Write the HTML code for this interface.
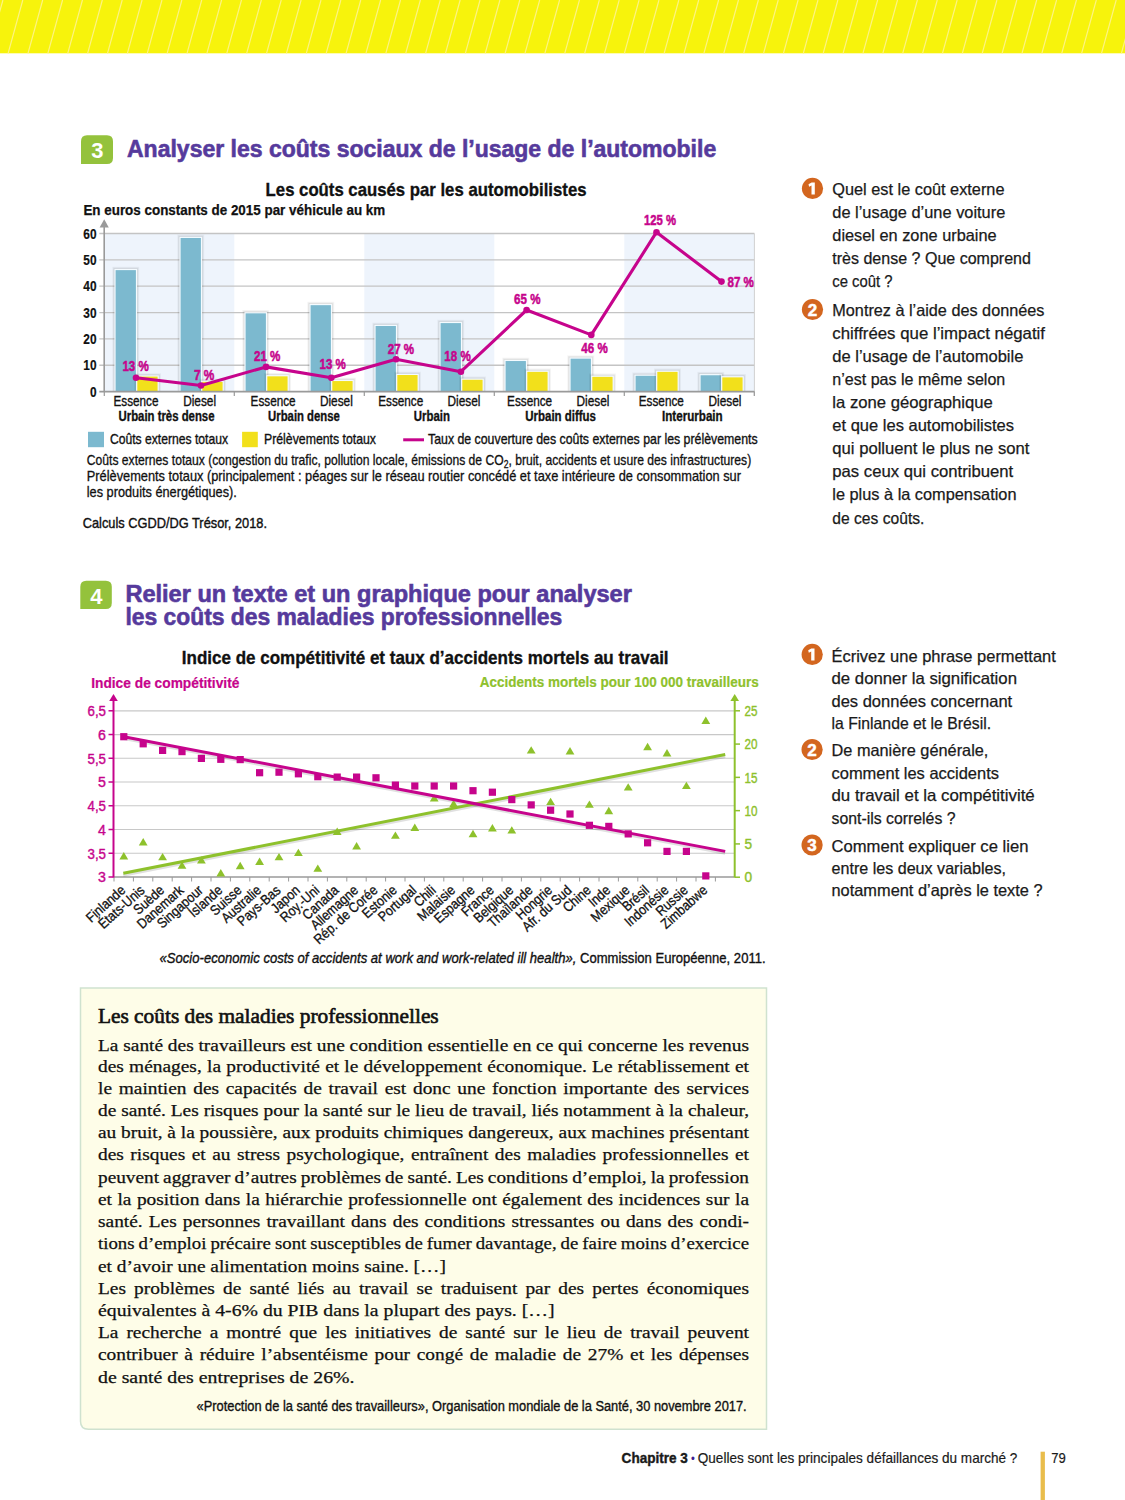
<!DOCTYPE html>
<html lang="fr"><head><meta charset="utf-8"><title>Page 79</title>
<style>
html,body{margin:0;padding:0;background:#fff;}
body{width:1125px;height:1500px;overflow:hidden;}
svg{display:block;}
</style></head><body>
<svg width="1125" height="1500" viewBox="0 0 1125 1500" font-family='"Liberation Sans", sans-serif'>
<rect x="0" y="0" width="1125" height="53.3" fill="#f7f30c"/>
<path d="M-31.66 53.3L-16.96 0 M-11.78 53.3L2.92 0 M8.10 53.3L22.80 0 M27.98 53.3L42.68 0 M47.86 53.3L62.56 0 M67.74 53.3L82.44 0 M87.62 53.3L102.32 0 M107.50 53.3L122.20 0 M127.38 53.3L142.08 0 M147.26 53.3L161.96 0 M167.14 53.3L181.84 0 M187.02 53.3L201.72 0 M206.90 53.3L221.60 0 M226.78 53.3L241.48 0 M246.66 53.3L261.36 0 M266.54 53.3L281.24 0 M286.42 53.3L301.12 0 M306.30 53.3L321.00 0 M326.18 53.3L340.88 0 M346.06 53.3L360.76 0 M365.94 53.3L380.64 0 M385.82 53.3L400.52 0 M405.70 53.3L420.40 0 M425.58 53.3L440.28 0 M445.46 53.3L460.16 0 M465.34 53.3L480.04 0 M485.22 53.3L499.92 0 M505.10 53.3L519.80 0 M524.98 53.3L539.68 0 M544.86 53.3L559.56 0 M564.74 53.3L579.44 0 M584.62 53.3L599.32 0 M604.50 53.3L619.20 0 M624.38 53.3L639.08 0 M644.26 53.3L658.96 0 M664.14 53.3L678.84 0 M684.02 53.3L698.72 0 M703.90 53.3L718.60 0 M723.78 53.3L738.48 0 M743.66 53.3L758.36 0 M763.54 53.3L778.24 0 M783.42 53.3L798.12 0 M803.30 53.3L818.00 0 M823.18 53.3L837.88 0 M843.06 53.3L857.76 0 M862.94 53.3L877.64 0 M882.82 53.3L897.52 0 M902.70 53.3L917.40 0 M922.58 53.3L937.28 0 M942.46 53.3L957.16 0 M962.34 53.3L977.04 0 M982.22 53.3L996.92 0 M1002.10 53.3L1016.80 0 M1021.98 53.3L1036.68 0 M1041.86 53.3L1056.56 0 M1061.74 53.3L1076.44 0 M1081.62 53.3L1096.32 0 M1101.50 53.3L1116.20 0 M1121.38 53.3L1136.08 0 M1141.26 53.3L1155.96 0 M1161.14 53.3L1175.84 0 M1181.02 53.3L1195.72 0" stroke="#fdf382" stroke-width="1.2" fill="none"/>
<path d="M81 164.10000000000002L81 141.3Q81 135.3 87 135.3L107 135.3Q113 135.3 113 141.3L113 158.10000000000002Q113 164.10000000000002 107 164.10000000000002Z" fill="#94c23c"/>
<text x="97.30" y="158.40" font-size="22" fill="#fff" font-weight="bold" text-anchor="middle">3</text>
<text x="127.00" y="157.00" font-size="23" fill="#563a9c" font-weight="bold" textLength="589.20" lengthAdjust="spacingAndGlyphs" stroke="#563a9c" stroke-width="0.6">Analyser les coûts sociaux de l’usage de l’automobile</text>
<text x="265.60" y="195.70" font-size="18.5" fill="#111" font-weight="bold" textLength="320.90" lengthAdjust="spacingAndGlyphs" stroke="#111" stroke-width="0.35">Les coûts causés par les automobilistes</text>
<text x="83.40" y="215.40" font-size="14.5" fill="#111" font-weight="bold" textLength="301.80" lengthAdjust="spacingAndGlyphs" stroke="#111" stroke-width="0.25">En euros constants de 2015 par véhicule au km</text>
<rect x="104.3" y="233.50" width="130" height="158.10" fill="#eef4fc"/>
<rect x="364.3" y="233.50" width="130" height="158.10" fill="#eef4fc"/>
<rect x="624.3" y="233.50" width="130" height="158.10" fill="#eef4fc"/>
<line x1="99.3" y1="365.25" x2="754.4" y2="365.25" stroke="#c4c4c4" stroke-width="1.3"/>
<line x1="99.3" y1="338.90" x2="754.4" y2="338.90" stroke="#c4c4c4" stroke-width="1.3"/>
<line x1="99.3" y1="312.55" x2="754.4" y2="312.55" stroke="#c4c4c4" stroke-width="1.3"/>
<line x1="99.3" y1="286.20" x2="754.4" y2="286.20" stroke="#c4c4c4" stroke-width="1.3"/>
<line x1="99.3" y1="259.85" x2="754.4" y2="259.85" stroke="#c4c4c4" stroke-width="1.3"/>
<line x1="99.3" y1="233.50" x2="754.4" y2="233.50" stroke="#c4c4c4" stroke-width="1.3"/>
<line x1="754.4" y1="233.50" x2="754.4" y2="395.7" stroke="#d0d0d0" stroke-width="1"/>
<text x="96.50" y="396.70" font-size="14.5" fill="#111" font-weight="bold" text-anchor="end" textLength="6.60" lengthAdjust="spacingAndGlyphs" stroke="#111" stroke-width="0.2">0</text>
<text x="96.50" y="370.35" font-size="14.5" fill="#111" font-weight="bold" text-anchor="end" textLength="13.20" lengthAdjust="spacingAndGlyphs" stroke="#111" stroke-width="0.2">10</text>
<text x="96.50" y="344.00" font-size="14.5" fill="#111" font-weight="bold" text-anchor="end" textLength="13.20" lengthAdjust="spacingAndGlyphs" stroke="#111" stroke-width="0.2">20</text>
<text x="96.50" y="317.65" font-size="14.5" fill="#111" font-weight="bold" text-anchor="end" textLength="13.20" lengthAdjust="spacingAndGlyphs" stroke="#111" stroke-width="0.2">30</text>
<text x="96.50" y="291.30" font-size="14.5" fill="#111" font-weight="bold" text-anchor="end" textLength="13.20" lengthAdjust="spacingAndGlyphs" stroke="#111" stroke-width="0.2">40</text>
<text x="96.50" y="264.95" font-size="14.5" fill="#111" font-weight="bold" text-anchor="end" textLength="13.20" lengthAdjust="spacingAndGlyphs" stroke="#111" stroke-width="0.2">50</text>
<text x="96.50" y="238.60" font-size="14.5" fill="#111" font-weight="bold" text-anchor="end" textLength="13.20" lengthAdjust="spacingAndGlyphs" stroke="#111" stroke-width="0.2">60</text>
<rect x="112.20" y="266.73" width="27.10" height="124.87" fill="#000" opacity="0.035"/>
<rect x="113.00" y="267.53" width="25.50" height="124.07" fill="#000" opacity="0.05"/>
<rect x="113.80" y="268.33" width="23.90" height="123.27" fill="#000" opacity="0.06"/>
<rect x="114.40" y="268.93" width="22.70" height="122.67" fill="#f4fbff"/>
<rect x="115.60" y="270.13" width="20.3" height="121.47" fill="#7cb9cf"/>
<rect x="133.90" y="373.18" width="27.10" height="18.42" fill="#000" opacity="0.035"/>
<rect x="134.70" y="373.98" width="25.50" height="17.62" fill="#000" opacity="0.05"/>
<rect x="135.50" y="374.78" width="23.90" height="16.82" fill="#000" opacity="0.06"/>
<rect x="136.10" y="375.38" width="22.70" height="16.22" fill="#f4fbff"/>
<rect x="137.30" y="376.58" width="20.3" height="15.02" fill="#f2e01b"/>
<rect x="177.20" y="234.58" width="27.10" height="157.02" fill="#000" opacity="0.035"/>
<rect x="178.00" y="235.38" width="25.50" height="156.22" fill="#000" opacity="0.05"/>
<rect x="178.80" y="236.18" width="23.90" height="155.42" fill="#000" opacity="0.06"/>
<rect x="179.40" y="236.78" width="22.70" height="154.82" fill="#f4fbff"/>
<rect x="180.60" y="237.98" width="20.3" height="153.62" fill="#7cb9cf"/>
<rect x="198.90" y="378.45" width="27.10" height="13.15" fill="#000" opacity="0.035"/>
<rect x="199.70" y="379.25" width="25.50" height="12.35" fill="#000" opacity="0.05"/>
<rect x="200.50" y="380.05" width="23.90" height="11.55" fill="#000" opacity="0.06"/>
<rect x="201.10" y="380.65" width="22.70" height="10.95" fill="#f4fbff"/>
<rect x="202.30" y="381.85" width="20.3" height="9.75" fill="#f2e01b"/>
<rect x="242.20" y="309.94" width="27.10" height="81.66" fill="#000" opacity="0.035"/>
<rect x="243.00" y="310.74" width="25.50" height="80.86" fill="#000" opacity="0.05"/>
<rect x="243.80" y="311.54" width="23.90" height="80.06" fill="#000" opacity="0.06"/>
<rect x="244.40" y="312.14" width="22.70" height="79.46" fill="#f4fbff"/>
<rect x="245.60" y="313.34" width="20.3" height="78.26" fill="#7cb9cf"/>
<rect x="263.90" y="372.92" width="27.10" height="18.68" fill="#000" opacity="0.035"/>
<rect x="264.70" y="373.72" width="25.50" height="17.88" fill="#000" opacity="0.05"/>
<rect x="265.50" y="374.52" width="23.90" height="17.08" fill="#000" opacity="0.06"/>
<rect x="266.10" y="375.12" width="22.70" height="16.48" fill="#f4fbff"/>
<rect x="267.30" y="376.32" width="20.3" height="15.28" fill="#f2e01b"/>
<rect x="307.20" y="301.77" width="27.10" height="89.83" fill="#000" opacity="0.035"/>
<rect x="308.00" y="302.57" width="25.50" height="89.03" fill="#000" opacity="0.05"/>
<rect x="308.80" y="303.37" width="23.90" height="88.23" fill="#000" opacity="0.06"/>
<rect x="309.40" y="303.97" width="22.70" height="87.63" fill="#f4fbff"/>
<rect x="310.60" y="305.17" width="20.3" height="86.43" fill="#7cb9cf"/>
<rect x="328.90" y="377.66" width="27.10" height="13.94" fill="#000" opacity="0.035"/>
<rect x="329.70" y="378.46" width="25.50" height="13.14" fill="#000" opacity="0.05"/>
<rect x="330.50" y="379.26" width="23.90" height="12.34" fill="#000" opacity="0.06"/>
<rect x="331.10" y="379.86" width="22.70" height="11.74" fill="#f4fbff"/>
<rect x="332.30" y="381.06" width="20.3" height="10.54" fill="#f2e01b"/>
<rect x="372.20" y="322.59" width="27.10" height="69.01" fill="#000" opacity="0.035"/>
<rect x="373.00" y="323.39" width="25.50" height="68.21" fill="#000" opacity="0.05"/>
<rect x="373.80" y="324.19" width="23.90" height="67.41" fill="#000" opacity="0.06"/>
<rect x="374.40" y="324.79" width="22.70" height="66.81" fill="#f4fbff"/>
<rect x="375.60" y="325.99" width="20.3" height="65.61" fill="#7cb9cf"/>
<rect x="393.90" y="371.60" width="27.10" height="20.00" fill="#000" opacity="0.035"/>
<rect x="394.70" y="372.40" width="25.50" height="19.20" fill="#000" opacity="0.05"/>
<rect x="395.50" y="373.20" width="23.90" height="18.40" fill="#000" opacity="0.06"/>
<rect x="396.10" y="373.80" width="22.70" height="17.80" fill="#f4fbff"/>
<rect x="397.30" y="375.00" width="20.3" height="16.60" fill="#f2e01b"/>
<rect x="437.20" y="319.69" width="27.10" height="71.91" fill="#000" opacity="0.035"/>
<rect x="438.00" y="320.49" width="25.50" height="71.11" fill="#000" opacity="0.05"/>
<rect x="438.80" y="321.29" width="23.90" height="70.31" fill="#000" opacity="0.06"/>
<rect x="439.40" y="321.89" width="22.70" height="69.71" fill="#f4fbff"/>
<rect x="440.60" y="323.09" width="20.3" height="68.51" fill="#7cb9cf"/>
<rect x="458.90" y="376.34" width="27.10" height="15.26" fill="#000" opacity="0.035"/>
<rect x="459.70" y="377.14" width="25.50" height="14.46" fill="#000" opacity="0.05"/>
<rect x="460.50" y="377.94" width="23.90" height="13.66" fill="#000" opacity="0.06"/>
<rect x="461.10" y="378.54" width="22.70" height="13.06" fill="#f4fbff"/>
<rect x="462.30" y="379.74" width="20.3" height="11.86" fill="#f2e01b"/>
<rect x="502.20" y="357.63" width="27.10" height="33.97" fill="#000" opacity="0.035"/>
<rect x="503.00" y="358.43" width="25.50" height="33.17" fill="#000" opacity="0.05"/>
<rect x="503.80" y="359.23" width="23.90" height="32.37" fill="#000" opacity="0.06"/>
<rect x="504.40" y="359.83" width="22.70" height="31.77" fill="#f4fbff"/>
<rect x="505.60" y="361.03" width="20.3" height="30.57" fill="#7cb9cf"/>
<rect x="523.90" y="368.44" width="27.10" height="23.16" fill="#000" opacity="0.035"/>
<rect x="524.70" y="369.24" width="25.50" height="22.36" fill="#000" opacity="0.05"/>
<rect x="525.50" y="370.04" width="23.90" height="21.56" fill="#000" opacity="0.06"/>
<rect x="526.10" y="370.64" width="22.70" height="20.96" fill="#f4fbff"/>
<rect x="527.30" y="371.84" width="20.3" height="19.76" fill="#f2e01b"/>
<rect x="567.20" y="355.26" width="27.10" height="36.34" fill="#000" opacity="0.035"/>
<rect x="568.00" y="356.06" width="25.50" height="35.54" fill="#000" opacity="0.05"/>
<rect x="568.80" y="356.86" width="23.90" height="34.74" fill="#000" opacity="0.06"/>
<rect x="569.40" y="357.46" width="22.70" height="34.14" fill="#f4fbff"/>
<rect x="570.60" y="358.66" width="20.3" height="32.94" fill="#7cb9cf"/>
<rect x="588.90" y="373.44" width="27.10" height="18.16" fill="#000" opacity="0.035"/>
<rect x="589.70" y="374.24" width="25.50" height="17.36" fill="#000" opacity="0.05"/>
<rect x="590.50" y="375.04" width="23.90" height="16.56" fill="#000" opacity="0.06"/>
<rect x="591.10" y="375.64" width="22.70" height="15.96" fill="#f4fbff"/>
<rect x="592.30" y="376.84" width="20.3" height="14.76" fill="#f2e01b"/>
<rect x="632.20" y="372.39" width="27.10" height="19.21" fill="#000" opacity="0.035"/>
<rect x="633.00" y="373.19" width="25.50" height="18.41" fill="#000" opacity="0.05"/>
<rect x="633.80" y="373.99" width="23.90" height="17.61" fill="#000" opacity="0.06"/>
<rect x="634.40" y="374.59" width="22.70" height="17.01" fill="#f4fbff"/>
<rect x="635.60" y="375.79" width="20.3" height="15.81" fill="#7cb9cf"/>
<rect x="653.90" y="368.44" width="27.10" height="23.16" fill="#000" opacity="0.035"/>
<rect x="654.70" y="369.24" width="25.50" height="22.36" fill="#000" opacity="0.05"/>
<rect x="655.50" y="370.04" width="23.90" height="21.56" fill="#000" opacity="0.06"/>
<rect x="656.10" y="370.64" width="22.70" height="20.96" fill="#f4fbff"/>
<rect x="657.30" y="371.84" width="20.3" height="19.76" fill="#f2e01b"/>
<rect x="697.20" y="371.86" width="27.10" height="19.74" fill="#000" opacity="0.035"/>
<rect x="698.00" y="372.66" width="25.50" height="18.94" fill="#000" opacity="0.05"/>
<rect x="698.80" y="373.46" width="23.90" height="18.14" fill="#000" opacity="0.06"/>
<rect x="699.40" y="374.06" width="22.70" height="17.54" fill="#f4fbff"/>
<rect x="700.60" y="375.26" width="20.3" height="16.34" fill="#7cb9cf"/>
<rect x="718.90" y="373.97" width="27.10" height="17.63" fill="#000" opacity="0.035"/>
<rect x="719.70" y="374.77" width="25.50" height="16.83" fill="#000" opacity="0.05"/>
<rect x="720.50" y="375.57" width="23.90" height="16.03" fill="#000" opacity="0.06"/>
<rect x="721.10" y="376.17" width="22.70" height="15.43" fill="#f4fbff"/>
<rect x="722.30" y="377.37" width="20.3" height="14.23" fill="#f2e01b"/>
<line x1="99.3" y1="391.6" x2="754.4" y2="391.6" stroke="#9a9a9a" stroke-width="1.6"/>
<line x1="104.3" y1="391.6" x2="104.3" y2="396" stroke="#9a9a9a" stroke-width="1.2"/>
<line x1="234.3" y1="391.6" x2="234.3" y2="396" stroke="#9a9a9a" stroke-width="1.2"/>
<line x1="364.3" y1="391.6" x2="364.3" y2="396" stroke="#9a9a9a" stroke-width="1.2"/>
<line x1="494.3" y1="391.6" x2="494.3" y2="396" stroke="#9a9a9a" stroke-width="1.2"/>
<line x1="624.3" y1="391.6" x2="624.3" y2="396" stroke="#9a9a9a" stroke-width="1.2"/>
<line x1="754.3" y1="391.6" x2="754.3" y2="396" stroke="#9a9a9a" stroke-width="1.2"/>
<line x1="104.2" y1="226" x2="104.2" y2="391.6" stroke="#9a9a9a" stroke-width="1.6"/>
<path d="M104.2 219.3L99.6 227.4L108.8 227.4Z" fill="#9a9a9a"/>
<polyline points="136,377.7 201,385.5 266,366.9 331.3,377.7 396,359.2 460.9,371.7 526.6,310 591.3,334.9 656.5,232.2 721.5,281.6" fill="none" stroke="#c6048c" stroke-width="3.1" stroke-linejoin="round"/>
<circle cx="136" cy="377.7" r="3.3" fill="#c6048c"/>
<circle cx="201" cy="385.5" r="3.3" fill="#c6048c"/>
<circle cx="266" cy="366.9" r="3.3" fill="#c6048c"/>
<circle cx="331.3" cy="377.7" r="3.3" fill="#c6048c"/>
<circle cx="396" cy="359.2" r="3.3" fill="#c6048c"/>
<circle cx="460.9" cy="371.7" r="3.3" fill="#c6048c"/>
<circle cx="526.6" cy="310" r="3.3" fill="#c6048c"/>
<circle cx="591.3" cy="334.9" r="3.3" fill="#c6048c"/>
<circle cx="656.5" cy="232.2" r="3.3" fill="#c6048c"/>
<circle cx="721.5" cy="281.6" r="3.3" fill="#c6048c"/>
<text x="135.60" y="371.00" font-size="14.5" fill="#c6048c" font-weight="bold" text-anchor="middle" textLength="26.40" lengthAdjust="spacingAndGlyphs" stroke="#c6048c" stroke-width="0.5">13 %</text>
<text x="204.20" y="380.00" font-size="14.5" fill="#c6048c" font-weight="bold" text-anchor="middle" textLength="20.40" lengthAdjust="spacingAndGlyphs" stroke="#c6048c" stroke-width="0.5">7 %</text>
<text x="267.20" y="361.30" font-size="14.5" fill="#c6048c" font-weight="bold" text-anchor="middle" textLength="26.40" lengthAdjust="spacingAndGlyphs" stroke="#c6048c" stroke-width="0.5">21 %</text>
<text x="332.70" y="369.00" font-size="14.5" fill="#c6048c" font-weight="bold" text-anchor="middle" textLength="26.40" lengthAdjust="spacingAndGlyphs" stroke="#c6048c" stroke-width="0.5">13 %</text>
<text x="400.90" y="353.90" font-size="14.5" fill="#c6048c" font-weight="bold" text-anchor="middle" textLength="26.40" lengthAdjust="spacingAndGlyphs" stroke="#c6048c" stroke-width="0.5">27 %</text>
<text x="457.50" y="361.30" font-size="14.5" fill="#c6048c" font-weight="bold" text-anchor="middle" textLength="26.40" lengthAdjust="spacingAndGlyphs" stroke="#c6048c" stroke-width="0.5">18 %</text>
<text x="527.30" y="304.00" font-size="14.5" fill="#c6048c" font-weight="bold" text-anchor="middle" textLength="26.40" lengthAdjust="spacingAndGlyphs" stroke="#c6048c" stroke-width="0.5">65 %</text>
<text x="594.50" y="353.00" font-size="14.5" fill="#c6048c" font-weight="bold" text-anchor="middle" textLength="26.40" lengthAdjust="spacingAndGlyphs" stroke="#c6048c" stroke-width="0.5">46 %</text>
<text x="660.00" y="225.20" font-size="14.5" fill="#c6048c" font-weight="bold" text-anchor="middle" textLength="32.00" lengthAdjust="spacingAndGlyphs" stroke="#c6048c" stroke-width="0.5">125 %</text>
<text x="740.70" y="286.60" font-size="14.5" fill="#c6048c" font-weight="bold" text-anchor="middle" textLength="26.40" lengthAdjust="spacingAndGlyphs" stroke="#c6048c" stroke-width="0.5">87 %</text>
<text x="113.50" y="406.30" font-size="14" fill="#111" textLength="45.00" lengthAdjust="spacingAndGlyphs" stroke="#111" stroke-width="0.35">Essence</text>
<text x="183.20" y="406.30" font-size="14" fill="#111" textLength="32.90" lengthAdjust="spacingAndGlyphs" stroke="#111" stroke-width="0.35">Diesel</text>
<text x="250.60" y="406.30" font-size="14" fill="#111" textLength="45.00" lengthAdjust="spacingAndGlyphs" stroke="#111" stroke-width="0.35">Essence</text>
<text x="319.90" y="406.30" font-size="14" fill="#111" textLength="32.90" lengthAdjust="spacingAndGlyphs" stroke="#111" stroke-width="0.35">Diesel</text>
<text x="378.20" y="406.30" font-size="14" fill="#111" textLength="45.00" lengthAdjust="spacingAndGlyphs" stroke="#111" stroke-width="0.35">Essence</text>
<text x="447.50" y="406.30" font-size="14" fill="#111" textLength="32.90" lengthAdjust="spacingAndGlyphs" stroke="#111" stroke-width="0.35">Diesel</text>
<text x="507.10" y="406.30" font-size="14" fill="#111" textLength="45.00" lengthAdjust="spacingAndGlyphs" stroke="#111" stroke-width="0.35">Essence</text>
<text x="576.50" y="406.30" font-size="14" fill="#111" textLength="32.90" lengthAdjust="spacingAndGlyphs" stroke="#111" stroke-width="0.35">Diesel</text>
<text x="638.80" y="406.30" font-size="14" fill="#111" textLength="45.00" lengthAdjust="spacingAndGlyphs" stroke="#111" stroke-width="0.35">Essence</text>
<text x="708.50" y="406.30" font-size="14" fill="#111" textLength="32.90" lengthAdjust="spacingAndGlyphs" stroke="#111" stroke-width="0.35">Diesel</text>
<text x="118.50" y="421.20" font-size="14.3" fill="#111" font-weight="bold" textLength="96.00" lengthAdjust="spacingAndGlyphs" stroke="#111" stroke-width="0.35">Urbain très dense</text>
<text x="268.10" y="421.20" font-size="14.3" fill="#111" font-weight="bold" textLength="71.70" lengthAdjust="spacingAndGlyphs" stroke="#111" stroke-width="0.35">Urbain dense</text>
<text x="413.80" y="421.20" font-size="14.3" fill="#111" font-weight="bold" textLength="36.10" lengthAdjust="spacingAndGlyphs" stroke="#111" stroke-width="0.35">Urbain</text>
<text x="525.30" y="421.20" font-size="14.3" fill="#111" font-weight="bold" textLength="70.70" lengthAdjust="spacingAndGlyphs" stroke="#111" stroke-width="0.35">Urbain diffus</text>
<text x="662.00" y="421.20" font-size="14.3" fill="#111" font-weight="bold" textLength="60.70" lengthAdjust="spacingAndGlyphs" stroke="#111" stroke-width="0.35">Interurbain</text>
<rect x="88" y="431.8" width="16" height="15.4" fill="#7cb9cf"/>
<text x="109.90" y="443.70" font-size="14.5" fill="#111" textLength="118.20" lengthAdjust="spacingAndGlyphs" stroke="#111" stroke-width="0.35">Coûts externes totaux</text>
<rect x="242.1" y="431.8" width="15.7" height="15.4" fill="#f2e01b"/>
<text x="264.00" y="443.70" font-size="14.5" fill="#111" textLength="112.00" lengthAdjust="spacingAndGlyphs" stroke="#111" stroke-width="0.35">Prélèvements totaux</text>
<line x1="403.2" y1="439.8" x2="424" y2="439.8" stroke="#c6048c" stroke-width="3"/>
<text x="428.00" y="443.70" font-size="14.5" fill="#111" textLength="329.60" lengthAdjust="spacingAndGlyphs" stroke="#111" stroke-width="0.35">Taux de couverture des coûts externes par les prélèvements</text>
<text x="86.8" y="465.2" font-size="14.2" fill="#111" stroke="#111" stroke-width="0.3" textLength="664.4" lengthAdjust="spacingAndGlyphs">Coûts externes totaux (congestion du trafic, pollution locale, émissions de CO<tspan font-size="10" dy="2.5">2</tspan><tspan dy="-2.5">, bruit, accidents et usure des infrastructures)</tspan></text>
<text x="86.80" y="481.20" font-size="14.2" fill="#111" textLength="654.20" lengthAdjust="spacingAndGlyphs" stroke="#111" stroke-width="0.3">Prélèvements totaux (principalement : péages sur le réseau routier concédé et taxe intérieure de consommation sur</text>
<text x="86.80" y="496.50" font-size="14.2" fill="#111" textLength="150.00" lengthAdjust="spacingAndGlyphs" stroke="#111" stroke-width="0.3">les produits énergétiques).</text>
<text x="82.70" y="528.10" font-size="14.8" fill="#111" textLength="184.30" lengthAdjust="spacingAndGlyphs" stroke="#111" stroke-width="0.4">Calculs CGDD/DG Trésor, 2018.</text>
<circle cx="812.5" cy="188.4" r="10.6" fill="#d3661f"/>
<path d="M814.80 182.40L811.60 182.40L808.50 184.30L809.10 186.80L811.50 185.50L811.50 194.40L814.80 194.40Z" fill="#fff"/>
<text x="832.30" y="194.90" font-size="16.5" fill="#1a1a1a" textLength="172.20" lengthAdjust="spacingAndGlyphs" stroke="#1a1a1a" stroke-width="0.25">Quel est le coût externe</text>
<text x="832.30" y="217.95" font-size="16.5" fill="#1a1a1a" textLength="173.00" lengthAdjust="spacingAndGlyphs" stroke="#1a1a1a" stroke-width="0.25">de l’usage d’une voiture</text>
<text x="832.30" y="241.00" font-size="16.5" fill="#1a1a1a" textLength="164.30" lengthAdjust="spacingAndGlyphs" stroke="#1a1a1a" stroke-width="0.25">diesel en zone urbaine</text>
<text x="832.30" y="264.05" font-size="16.5" fill="#1a1a1a" textLength="198.60" lengthAdjust="spacingAndGlyphs" stroke="#1a1a1a" stroke-width="0.25">très dense ? Que comprend</text>
<text x="832.30" y="287.10" font-size="16.5" fill="#1a1a1a" textLength="60.20" lengthAdjust="spacingAndGlyphs" stroke="#1a1a1a" stroke-width="0.25">ce coût ?</text>
<circle cx="812.5" cy="309.5" r="10.6" fill="#d3661f"/>
<text x="812.50" y="315.60" font-size="17" fill="#fff" font-weight="bold" text-anchor="middle" stroke="#fff" stroke-width="0.5">2</text>
<text x="832.30" y="315.60" font-size="16.5" fill="#1a1a1a" textLength="212.10" lengthAdjust="spacingAndGlyphs" stroke="#1a1a1a" stroke-width="0.25">Montrez à l’aide des données</text>
<text x="832.30" y="338.70" font-size="16.5" fill="#1a1a1a" textLength="212.70" lengthAdjust="spacingAndGlyphs" stroke="#1a1a1a" stroke-width="0.25">chiffrées que l’impact négatif</text>
<text x="832.30" y="361.80" font-size="16.5" fill="#1a1a1a" textLength="191.10" lengthAdjust="spacingAndGlyphs" stroke="#1a1a1a" stroke-width="0.25">de l’usage de l’automobile</text>
<text x="832.30" y="384.90" font-size="16.5" fill="#1a1a1a" textLength="173.00" lengthAdjust="spacingAndGlyphs" stroke="#1a1a1a" stroke-width="0.25">n’est pas le même selon</text>
<text x="832.30" y="408.00" font-size="16.5" fill="#1a1a1a" textLength="160.50" lengthAdjust="spacingAndGlyphs" stroke="#1a1a1a" stroke-width="0.25">la zone géographique</text>
<text x="832.30" y="431.10" font-size="16.5" fill="#1a1a1a" textLength="181.70" lengthAdjust="spacingAndGlyphs" stroke="#1a1a1a" stroke-width="0.25">et que les automobilistes</text>
<text x="832.30" y="454.20" font-size="16.5" fill="#1a1a1a" textLength="197.10" lengthAdjust="spacingAndGlyphs" stroke="#1a1a1a" stroke-width="0.25">qui polluent le plus ne sont</text>
<text x="832.30" y="477.30" font-size="16.5" fill="#1a1a1a" textLength="180.90" lengthAdjust="spacingAndGlyphs" stroke="#1a1a1a" stroke-width="0.25">pas ceux qui contribuent</text>
<text x="832.30" y="500.40" font-size="16.5" fill="#1a1a1a" textLength="184.20" lengthAdjust="spacingAndGlyphs" stroke="#1a1a1a" stroke-width="0.25">le plus à la compensation</text>
<text x="832.30" y="523.50" font-size="16.5" fill="#1a1a1a" textLength="92.10" lengthAdjust="spacingAndGlyphs" stroke="#1a1a1a" stroke-width="0.25">de ces coûts.</text>
<path d="M80.3 609.0L80.3 586.7Q80.3 580.7 86.3 580.7L105.8 580.7Q111.8 580.7 111.8 586.7L111.8 603.0Q111.8 609.0 105.8 609.0Z" fill="#94c23c"/>
<text x="96.35" y="603.55" font-size="22" fill="#fff" font-weight="bold" text-anchor="middle">4</text>
<text x="125.40" y="602.00" font-size="23" fill="#563a9c" font-weight="bold" textLength="506.50" lengthAdjust="spacingAndGlyphs" stroke="#563a9c" stroke-width="0.6">Relier un texte et un graphique pour analyser</text>
<text x="125.40" y="624.50" font-size="23" fill="#563a9c" font-weight="bold" textLength="436.90" lengthAdjust="spacingAndGlyphs" stroke="#563a9c" stroke-width="0.6">les coûts des maladies professionnelles</text>
<text x="181.80" y="663.50" font-size="18.5" fill="#111" font-weight="bold" textLength="486.80" lengthAdjust="spacingAndGlyphs" stroke="#111" stroke-width="0.35">Indice de compétitivité et taux d’accidents mortels au travail</text>
<text x="91.20" y="688.00" font-size="14.5" fill="#c6048c" font-weight="bold" textLength="148.20" lengthAdjust="spacingAndGlyphs" stroke="#c6048c" stroke-width="0.2">Indice de compétitivité</text>
<text x="479.80" y="687.30" font-size="14.5" fill="#8ec12c" font-weight="bold" textLength="278.90" lengthAdjust="spacingAndGlyphs" stroke="#8ec12c" stroke-width="0.2">Accidents mortels pour 100 000 travailleurs</text>
<line x1="113.5" y1="853.25" x2="734" y2="853.25" stroke="#c8c8c8" stroke-width="1.2"/>
<line x1="113.5" y1="829.51" x2="734" y2="829.51" stroke="#c8c8c8" stroke-width="1.2"/>
<line x1="113.5" y1="805.76" x2="734" y2="805.76" stroke="#c8c8c8" stroke-width="1.2"/>
<line x1="113.5" y1="782.02" x2="734" y2="782.02" stroke="#c8c8c8" stroke-width="1.2"/>
<line x1="113.5" y1="758.27" x2="734" y2="758.27" stroke="#c8c8c8" stroke-width="1.2"/>
<line x1="113.5" y1="734.53" x2="734" y2="734.53" stroke="#c8c8c8" stroke-width="1.2"/>
<line x1="113.5" y1="710.78" x2="734" y2="710.78" stroke="#c8c8c8" stroke-width="1.2"/>
<line x1="113.5" y1="877" x2="734.7" y2="877" stroke="#9a9a9a" stroke-width="1.6"/>
<line x1="114.00" y1="877" x2="114.00" y2="881.5" stroke="#9a9a9a" stroke-width="1"/>
<line x1="133.40" y1="877" x2="133.40" y2="881.5" stroke="#9a9a9a" stroke-width="1"/>
<line x1="152.80" y1="877" x2="152.80" y2="881.5" stroke="#9a9a9a" stroke-width="1"/>
<line x1="172.20" y1="877" x2="172.20" y2="881.5" stroke="#9a9a9a" stroke-width="1"/>
<line x1="191.60" y1="877" x2="191.60" y2="881.5" stroke="#9a9a9a" stroke-width="1"/>
<line x1="211.00" y1="877" x2="211.00" y2="881.5" stroke="#9a9a9a" stroke-width="1"/>
<line x1="230.40" y1="877" x2="230.40" y2="881.5" stroke="#9a9a9a" stroke-width="1"/>
<line x1="249.80" y1="877" x2="249.80" y2="881.5" stroke="#9a9a9a" stroke-width="1"/>
<line x1="269.20" y1="877" x2="269.20" y2="881.5" stroke="#9a9a9a" stroke-width="1"/>
<line x1="288.60" y1="877" x2="288.60" y2="881.5" stroke="#9a9a9a" stroke-width="1"/>
<line x1="308.00" y1="877" x2="308.00" y2="881.5" stroke="#9a9a9a" stroke-width="1"/>
<line x1="327.40" y1="877" x2="327.40" y2="881.5" stroke="#9a9a9a" stroke-width="1"/>
<line x1="346.80" y1="877" x2="346.80" y2="881.5" stroke="#9a9a9a" stroke-width="1"/>
<line x1="366.20" y1="877" x2="366.20" y2="881.5" stroke="#9a9a9a" stroke-width="1"/>
<line x1="385.60" y1="877" x2="385.60" y2="881.5" stroke="#9a9a9a" stroke-width="1"/>
<line x1="405.00" y1="877" x2="405.00" y2="881.5" stroke="#9a9a9a" stroke-width="1"/>
<line x1="424.40" y1="877" x2="424.40" y2="881.5" stroke="#9a9a9a" stroke-width="1"/>
<line x1="443.80" y1="877" x2="443.80" y2="881.5" stroke="#9a9a9a" stroke-width="1"/>
<line x1="463.20" y1="877" x2="463.20" y2="881.5" stroke="#9a9a9a" stroke-width="1"/>
<line x1="482.60" y1="877" x2="482.60" y2="881.5" stroke="#9a9a9a" stroke-width="1"/>
<line x1="502.00" y1="877" x2="502.00" y2="881.5" stroke="#9a9a9a" stroke-width="1"/>
<line x1="521.40" y1="877" x2="521.40" y2="881.5" stroke="#9a9a9a" stroke-width="1"/>
<line x1="540.80" y1="877" x2="540.80" y2="881.5" stroke="#9a9a9a" stroke-width="1"/>
<line x1="560.20" y1="877" x2="560.20" y2="881.5" stroke="#9a9a9a" stroke-width="1"/>
<line x1="579.60" y1="877" x2="579.60" y2="881.5" stroke="#9a9a9a" stroke-width="1"/>
<line x1="599.00" y1="877" x2="599.00" y2="881.5" stroke="#9a9a9a" stroke-width="1"/>
<line x1="618.40" y1="877" x2="618.40" y2="881.5" stroke="#9a9a9a" stroke-width="1"/>
<line x1="637.80" y1="877" x2="637.80" y2="881.5" stroke="#9a9a9a" stroke-width="1"/>
<line x1="657.20" y1="877" x2="657.20" y2="881.5" stroke="#9a9a9a" stroke-width="1"/>
<line x1="676.60" y1="877" x2="676.60" y2="881.5" stroke="#9a9a9a" stroke-width="1"/>
<line x1="696.00" y1="877" x2="696.00" y2="881.5" stroke="#9a9a9a" stroke-width="1"/>
<line x1="715.40" y1="877" x2="715.40" y2="881.5" stroke="#9a9a9a" stroke-width="1"/>
<line x1="113.5" y1="700" x2="113.5" y2="877.5" stroke="#c6048c" stroke-width="2"/>
<path d="M113.5 693.9L109.2 701L117.8 701Z" fill="#c6048c"/>
<line x1="108.5" y1="877.00" x2="113.5" y2="877.00" stroke="#c6048c" stroke-width="1.5"/>
<text x="106.00" y="882.40" font-size="15.3" fill="#c6048c" text-anchor="end" textLength="7.90" lengthAdjust="spacingAndGlyphs" stroke="#c6048c" stroke-width="0.4">3</text>
<line x1="108.5" y1="853.25" x2="113.5" y2="853.25" stroke="#c6048c" stroke-width="1.5"/>
<text x="106.00" y="858.65" font-size="15.3" fill="#c6048c" text-anchor="end" textLength="18.50" lengthAdjust="spacingAndGlyphs" stroke="#c6048c" stroke-width="0.4">3,5</text>
<line x1="108.5" y1="829.51" x2="113.5" y2="829.51" stroke="#c6048c" stroke-width="1.5"/>
<text x="106.00" y="834.91" font-size="15.3" fill="#c6048c" text-anchor="end" textLength="7.90" lengthAdjust="spacingAndGlyphs" stroke="#c6048c" stroke-width="0.4">4</text>
<line x1="108.5" y1="805.76" x2="113.5" y2="805.76" stroke="#c6048c" stroke-width="1.5"/>
<text x="106.00" y="811.16" font-size="15.3" fill="#c6048c" text-anchor="end" textLength="18.50" lengthAdjust="spacingAndGlyphs" stroke="#c6048c" stroke-width="0.4">4,5</text>
<line x1="108.5" y1="782.02" x2="113.5" y2="782.02" stroke="#c6048c" stroke-width="1.5"/>
<text x="106.00" y="787.42" font-size="15.3" fill="#c6048c" text-anchor="end" textLength="7.90" lengthAdjust="spacingAndGlyphs" stroke="#c6048c" stroke-width="0.4">5</text>
<line x1="108.5" y1="758.27" x2="113.5" y2="758.27" stroke="#c6048c" stroke-width="1.5"/>
<text x="106.00" y="763.67" font-size="15.3" fill="#c6048c" text-anchor="end" textLength="18.50" lengthAdjust="spacingAndGlyphs" stroke="#c6048c" stroke-width="0.4">5,5</text>
<line x1="108.5" y1="734.53" x2="113.5" y2="734.53" stroke="#c6048c" stroke-width="1.5"/>
<text x="106.00" y="739.93" font-size="15.3" fill="#c6048c" text-anchor="end" textLength="7.90" lengthAdjust="spacingAndGlyphs" stroke="#c6048c" stroke-width="0.4">6</text>
<line x1="108.5" y1="710.78" x2="113.5" y2="710.78" stroke="#c6048c" stroke-width="1.5"/>
<text x="106.00" y="716.18" font-size="15.3" fill="#c6048c" text-anchor="end" textLength="18.50" lengthAdjust="spacingAndGlyphs" stroke="#c6048c" stroke-width="0.4">6,5</text>
<line x1="734.7" y1="700" x2="734.7" y2="877.5" stroke="#8ec12c" stroke-width="2"/>
<path d="M734.7 693.9L730.4 701L739 701Z" fill="#8ec12c"/>
<line x1="734.7" y1="877.20" x2="740" y2="877.20" stroke="#8ec12c" stroke-width="1.5"/>
<text x="744.50" y="882.40" font-size="14.8" fill="#8ec12c" textLength="7.60" lengthAdjust="spacingAndGlyphs" stroke="#8ec12c" stroke-width="0.4">0</text>
<line x1="734.7" y1="843.92" x2="740" y2="843.92" stroke="#8ec12c" stroke-width="1.5"/>
<text x="744.50" y="849.12" font-size="14.8" fill="#8ec12c" textLength="7.60" lengthAdjust="spacingAndGlyphs" stroke="#8ec12c" stroke-width="0.4">5</text>
<line x1="734.7" y1="810.64" x2="740" y2="810.64" stroke="#8ec12c" stroke-width="1.5"/>
<text x="744.50" y="815.84" font-size="14.8" fill="#8ec12c" textLength="13.00" lengthAdjust="spacingAndGlyphs" stroke="#8ec12c" stroke-width="0.4">10</text>
<line x1="734.7" y1="777.36" x2="740" y2="777.36" stroke="#8ec12c" stroke-width="1.5"/>
<text x="744.50" y="782.56" font-size="14.8" fill="#8ec12c" textLength="13.00" lengthAdjust="spacingAndGlyphs" stroke="#8ec12c" stroke-width="0.4">15</text>
<line x1="734.7" y1="744.08" x2="740" y2="744.08" stroke="#8ec12c" stroke-width="1.5"/>
<text x="744.50" y="749.28" font-size="14.8" fill="#8ec12c" textLength="13.00" lengthAdjust="spacingAndGlyphs" stroke="#8ec12c" stroke-width="0.4">20</text>
<line x1="734.7" y1="710.80" x2="740" y2="710.80" stroke="#8ec12c" stroke-width="1.5"/>
<text x="744.50" y="716.00" font-size="14.8" fill="#8ec12c" textLength="13.00" lengthAdjust="spacingAndGlyphs" stroke="#8ec12c" stroke-width="0.4">25</text>
<line x1="123.8" y1="738.5" x2="725.2" y2="853.4" stroke="#000" stroke-opacity="0.12" stroke-width="3"/>
<line x1="123.3" y1="875.3" x2="725.2" y2="756.5" stroke="#000" stroke-opacity="0.12" stroke-width="3"/>
<path d="M123.80 852.00L128.20 859.40L119.40 859.40Z" fill="#8ec12c"/>
<path d="M143.20 838.00L147.60 845.40L138.80 845.40Z" fill="#8ec12c"/>
<path d="M162.60 852.90L167.00 860.30L158.20 860.30Z" fill="#8ec12c"/>
<path d="M182.00 861.40L186.40 868.80L177.60 868.80Z" fill="#8ec12c"/>
<path d="M201.40 856.20L205.80 863.60L197.00 863.60Z" fill="#8ec12c"/>
<path d="M220.80 869.10L225.20 876.50L216.40 876.50Z" fill="#8ec12c"/>
<path d="M240.20 861.80L244.60 869.20L235.80 869.20Z" fill="#8ec12c"/>
<path d="M259.60 857.60L264.00 865.00L255.20 865.00Z" fill="#8ec12c"/>
<path d="M279.00 852.90L283.40 860.30L274.60 860.30Z" fill="#8ec12c"/>
<path d="M298.40 848.70L302.80 856.10L294.00 856.10Z" fill="#8ec12c"/>
<path d="M317.80 864.40L322.20 871.80L313.40 871.80Z" fill="#8ec12c"/>
<path d="M337.20 827.60L341.60 835.00L332.80 835.00Z" fill="#8ec12c"/>
<path d="M356.60 842.00L361.00 849.40L352.20 849.40Z" fill="#8ec12c"/>
<path d="M395.40 831.40L399.80 838.80L391.00 838.80Z" fill="#8ec12c"/>
<path d="M414.80 823.60L419.20 831.00L410.40 831.00Z" fill="#8ec12c"/>
<path d="M434.20 794.20L438.60 801.60L429.80 801.60Z" fill="#8ec12c"/>
<path d="M453.60 799.80L458.00 807.20L449.20 807.20Z" fill="#8ec12c"/>
<path d="M473.00 829.80L477.40 837.20L468.60 837.20Z" fill="#8ec12c"/>
<path d="M492.40 824.00L496.80 831.40L488.00 831.40Z" fill="#8ec12c"/>
<path d="M511.80 826.20L516.20 833.60L507.40 833.60Z" fill="#8ec12c"/>
<path d="M531.20 746.20L535.60 753.60L526.80 753.60Z" fill="#8ec12c"/>
<path d="M550.60 797.70L555.00 805.10L546.20 805.10Z" fill="#8ec12c"/>
<path d="M570.00 747.10L574.40 754.50L565.60 754.50Z" fill="#8ec12c"/>
<path d="M589.40 800.40L593.80 807.80L585.00 807.80Z" fill="#8ec12c"/>
<path d="M608.80 806.80L613.20 814.20L604.40 814.20Z" fill="#8ec12c"/>
<path d="M628.20 783.20L632.60 790.60L623.80 790.60Z" fill="#8ec12c"/>
<path d="M647.60 742.80L652.00 750.20L643.20 750.20Z" fill="#8ec12c"/>
<path d="M667.00 749.00L671.40 756.40L662.60 756.40Z" fill="#8ec12c"/>
<path d="M686.40 781.70L690.80 789.10L682.00 789.10Z" fill="#8ec12c"/>
<path d="M705.80 716.60L710.20 724.00L701.40 724.00Z" fill="#8ec12c"/>
<line x1="123.3" y1="873.3" x2="725.2" y2="754.5" stroke="#8ec12c" stroke-width="3"/>
<rect x="120.20" y="733.10" width="7.2" height="7.2" fill="#c6048c"/>
<rect x="139.60" y="740.20" width="7.2" height="7.2" fill="#c6048c"/>
<rect x="159.00" y="746.80" width="7.2" height="7.2" fill="#c6048c"/>
<rect x="178.40" y="748.00" width="7.2" height="7.2" fill="#c6048c"/>
<rect x="197.80" y="754.80" width="7.2" height="7.2" fill="#c6048c"/>
<rect x="217.20" y="755.70" width="7.2" height="7.2" fill="#c6048c"/>
<rect x="236.60" y="756.00" width="7.2" height="7.2" fill="#c6048c"/>
<rect x="256.00" y="769.10" width="7.2" height="7.2" fill="#c6048c"/>
<rect x="275.40" y="768.60" width="7.2" height="7.2" fill="#c6048c"/>
<rect x="294.80" y="770.20" width="7.2" height="7.2" fill="#c6048c"/>
<rect x="314.20" y="773.10" width="7.2" height="7.2" fill="#c6048c"/>
<rect x="333.60" y="773.50" width="7.2" height="7.2" fill="#c6048c"/>
<rect x="353.00" y="773.50" width="7.2" height="7.2" fill="#c6048c"/>
<rect x="372.40" y="774.20" width="7.2" height="7.2" fill="#c6048c"/>
<rect x="391.80" y="781.50" width="7.2" height="7.2" fill="#c6048c"/>
<rect x="411.20" y="782.40" width="7.2" height="7.2" fill="#c6048c"/>
<rect x="430.60" y="782.40" width="7.2" height="7.2" fill="#c6048c"/>
<rect x="450.00" y="782.40" width="7.2" height="7.2" fill="#c6048c"/>
<rect x="469.40" y="787.10" width="7.2" height="7.2" fill="#c6048c"/>
<rect x="488.80" y="788.60" width="7.2" height="7.2" fill="#c6048c"/>
<rect x="508.20" y="796.00" width="7.2" height="7.2" fill="#c6048c"/>
<rect x="527.60" y="801.30" width="7.2" height="7.2" fill="#c6048c"/>
<rect x="547.00" y="806.60" width="7.2" height="7.2" fill="#c6048c"/>
<rect x="566.40" y="810.40" width="7.2" height="7.2" fill="#c6048c"/>
<rect x="585.80" y="821.70" width="7.2" height="7.2" fill="#c6048c"/>
<rect x="605.20" y="822.80" width="7.2" height="7.2" fill="#c6048c"/>
<rect x="624.60" y="830.30" width="7.2" height="7.2" fill="#c6048c"/>
<rect x="644.00" y="839.20" width="7.2" height="7.2" fill="#c6048c"/>
<rect x="663.40" y="847.80" width="7.2" height="7.2" fill="#c6048c"/>
<rect x="682.80" y="847.80" width="7.2" height="7.2" fill="#c6048c"/>
<rect x="702.20" y="872.30" width="7.2" height="7.2" fill="#c6048c"/>
<line x1="123.8" y1="736.7" x2="725.2" y2="851.4" stroke="#c6048c" stroke-width="3"/>
<text x="126.30" y="891.5" font-size="14" fill="#111" text-anchor="end" textLength="47.26" lengthAdjust="spacingAndGlyphs" stroke="#111" stroke-width="0.3" transform="rotate(-42 126.30 891.5)">Finlande</text>
<text x="145.70" y="891.5" font-size="14" fill="#111" text-anchor="end" textLength="56.83" lengthAdjust="spacingAndGlyphs" stroke="#111" stroke-width="0.3" transform="rotate(-42 145.70 891.5)">États-Unis</text>
<text x="165.10" y="891.5" font-size="14" fill="#111" text-anchor="end" textLength="35.63" lengthAdjust="spacingAndGlyphs" stroke="#111" stroke-width="0.3" transform="rotate(-42 165.10 891.5)">Suède</text>
<text x="184.50" y="891.5" font-size="14" fill="#111" text-anchor="end" textLength="56.84" lengthAdjust="spacingAndGlyphs" stroke="#111" stroke-width="0.3" transform="rotate(-42 184.50 891.5)">Danemark</text>
<text x="203.90" y="891.5" font-size="14" fill="#111" text-anchor="end" textLength="56.17" lengthAdjust="spacingAndGlyphs" stroke="#111" stroke-width="0.3" transform="rotate(-42 203.90 891.5)">Singapour</text>
<text x="223.30" y="891.5" font-size="14" fill="#111" text-anchor="end" textLength="39.74" lengthAdjust="spacingAndGlyphs" stroke="#111" stroke-width="0.3" transform="rotate(-42 223.30 891.5)">Islande</text>
<text x="242.70" y="891.5" font-size="14" fill="#111" text-anchor="end" textLength="36.99" lengthAdjust="spacingAndGlyphs" stroke="#111" stroke-width="0.3" transform="rotate(-42 242.70 891.5)">Suisse</text>
<text x="262.10" y="891.5" font-size="14" fill="#111" text-anchor="end" textLength="47.93" lengthAdjust="spacingAndGlyphs" stroke="#111" stroke-width="0.3" transform="rotate(-42 262.10 891.5)">Australie</text>
<text x="281.50" y="891.5" font-size="14" fill="#111" text-anchor="end" textLength="52.73" lengthAdjust="spacingAndGlyphs" stroke="#111" stroke-width="0.3" transform="rotate(-42 281.50 891.5)">Pays-Bas</text>
<text x="300.90" y="891.5" font-size="14" fill="#111" text-anchor="end" textLength="33.58" lengthAdjust="spacingAndGlyphs" stroke="#111" stroke-width="0.3" transform="rotate(-42 300.90 891.5)">Japon</text>
<text x="320.30" y="891.5" font-size="14" fill="#111" text-anchor="end" textLength="47.01" lengthAdjust="spacingAndGlyphs" stroke="#111" stroke-width="0.3" transform="rotate(-42 320.30 891.5)">Roy.-Uni</text>
<text x="339.70" y="891.5" font-size="14" fill="#111" text-anchor="end" textLength="43.16" lengthAdjust="spacingAndGlyphs" stroke="#111" stroke-width="0.3" transform="rotate(-42 339.70 891.5)">Canada</text>
<text x="359.10" y="891.5" font-size="14" fill="#111" text-anchor="end" textLength="58.22" lengthAdjust="spacingAndGlyphs" stroke="#111" stroke-width="0.3" transform="rotate(-42 359.10 891.5)">Allemagne</text>
<text x="378.50" y="891.5" font-size="14" fill="#111" text-anchor="end" textLength="80.14" lengthAdjust="spacingAndGlyphs" stroke="#111" stroke-width="0.3" transform="rotate(-42 378.50 891.5)">Rép. de Corée</text>
<text x="397.90" y="891.5" font-size="14" fill="#111" text-anchor="end" textLength="41.10" lengthAdjust="spacingAndGlyphs" stroke="#111" stroke-width="0.3" transform="rotate(-42 397.90 891.5)">Estonie</text>
<text x="417.30" y="891.5" font-size="14" fill="#111" text-anchor="end" textLength="45.90" lengthAdjust="spacingAndGlyphs" stroke="#111" stroke-width="0.3" transform="rotate(-42 417.30 891.5)">Portugal</text>
<text x="436.70" y="891.5" font-size="14" fill="#111" text-anchor="end" textLength="23.97" lengthAdjust="spacingAndGlyphs" stroke="#111" stroke-width="0.3" transform="rotate(-42 436.70 891.5)">Chili</text>
<text x="456.10" y="891.5" font-size="14" fill="#111" text-anchor="end" textLength="45.20" lengthAdjust="spacingAndGlyphs" stroke="#111" stroke-width="0.3" transform="rotate(-42 456.10 891.5)">Malaisie</text>
<text x="475.50" y="891.5" font-size="14" fill="#111" text-anchor="end" textLength="48.65" lengthAdjust="spacingAndGlyphs" stroke="#111" stroke-width="0.3" transform="rotate(-42 475.50 891.5)">Espagne</text>
<text x="494.90" y="891.5" font-size="14" fill="#111" text-anchor="end" textLength="38.35" lengthAdjust="spacingAndGlyphs" stroke="#111" stroke-width="0.3" transform="rotate(-42 494.90 891.5)">France</text>
<text x="514.30" y="891.5" font-size="14" fill="#111" text-anchor="end" textLength="47.96" lengthAdjust="spacingAndGlyphs" stroke="#111" stroke-width="0.3" transform="rotate(-42 514.30 891.5)">Belgique</text>
<text x="533.70" y="891.5" font-size="14" fill="#111" text-anchor="end" textLength="54.81" lengthAdjust="spacingAndGlyphs" stroke="#111" stroke-width="0.3" transform="rotate(-42 533.70 891.5)">Thaïlande</text>
<text x="553.10" y="891.5" font-size="14" fill="#111" text-anchor="end" textLength="43.15" lengthAdjust="spacingAndGlyphs" stroke="#111" stroke-width="0.3" transform="rotate(-42 553.10 891.5)">Hongrie</text>
<text x="572.50" y="891.5" font-size="14" fill="#111" text-anchor="end" textLength="60.97" lengthAdjust="spacingAndGlyphs" stroke="#111" stroke-width="0.3" transform="rotate(-42 572.50 891.5)">Afr. du Sud</text>
<text x="591.90" y="891.5" font-size="14" fill="#111" text-anchor="end" textLength="32.20" lengthAdjust="spacingAndGlyphs" stroke="#111" stroke-width="0.3" transform="rotate(-42 591.90 891.5)">Chine</text>
<text x="611.30" y="891.5" font-size="14" fill="#111" text-anchor="end" textLength="23.98" lengthAdjust="spacingAndGlyphs" stroke="#111" stroke-width="0.3" transform="rotate(-42 611.30 891.5)">Inde</text>
<text x="630.70" y="891.5" font-size="14" fill="#111" text-anchor="end" textLength="46.57" lengthAdjust="spacingAndGlyphs" stroke="#111" stroke-width="0.3" transform="rotate(-42 630.70 891.5)">Mexique</text>
<text x="650.10" y="891.5" font-size="14" fill="#111" text-anchor="end" textLength="30.81" lengthAdjust="spacingAndGlyphs" stroke="#111" stroke-width="0.3" transform="rotate(-42 650.10 891.5)">Brésil</text>
<text x="669.50" y="891.5" font-size="14" fill="#111" text-anchor="end" textLength="53.43" lengthAdjust="spacingAndGlyphs" stroke="#111" stroke-width="0.3" transform="rotate(-42 669.50 891.5)">Indonésie</text>
<text x="688.90" y="891.5" font-size="14" fill="#111" text-anchor="end" textLength="37.66" lengthAdjust="spacingAndGlyphs" stroke="#111" stroke-width="0.3" transform="rotate(-42 688.90 891.5)">Russie</text>
<text x="708.30" y="891.5" font-size="14" fill="#111" text-anchor="end" textLength="56.84" lengthAdjust="spacingAndGlyphs" stroke="#111" stroke-width="0.3" transform="rotate(-42 708.30 891.5)">Zimbabwe</text>
<text x="159.6" y="963" font-size="14" fill="#111" stroke="#111" stroke-width="0.35" textLength="606" lengthAdjust="spacingAndGlyphs"><tspan font-style="italic">«Socio-economic costs of accidents at work and work-related ill health»,</tspan> Commission Européenne, 2011.</text>
<circle cx="812.2" cy="654.4" r="10.6" fill="#d3661f"/>
<path d="M814.50 648.40L811.30 648.40L808.20 650.30L808.80 652.80L811.20 651.50L811.20 660.40L814.50 660.40Z" fill="#fff"/>
<text x="831.50" y="661.80" font-size="16.5" fill="#1a1a1a" textLength="224.30" lengthAdjust="spacingAndGlyphs" stroke="#1a1a1a" stroke-width="0.25">Écrivez une phrase permettant</text>
<text x="831.50" y="684.20" font-size="16.5" fill="#1a1a1a" textLength="185.50" lengthAdjust="spacingAndGlyphs" stroke="#1a1a1a" stroke-width="0.25">de donner la signification</text>
<text x="831.50" y="706.60" font-size="16.5" fill="#1a1a1a" textLength="180.70" lengthAdjust="spacingAndGlyphs" stroke="#1a1a1a" stroke-width="0.25">des données concernant</text>
<text x="831.50" y="729.00" font-size="16.5" fill="#1a1a1a" textLength="159.60" lengthAdjust="spacingAndGlyphs" stroke="#1a1a1a" stroke-width="0.25">la Finlande et le Brésil.</text>
<circle cx="812.1" cy="749.5" r="10.6" fill="#d3661f"/>
<text x="812.10" y="755.60" font-size="17" fill="#fff" font-weight="bold" text-anchor="middle" stroke="#fff" stroke-width="0.5">2</text>
<text x="831.50" y="756.40" font-size="16.5" fill="#1a1a1a" textLength="156.90" lengthAdjust="spacingAndGlyphs" stroke="#1a1a1a" stroke-width="0.25">De manière générale,</text>
<text x="831.50" y="778.80" font-size="16.5" fill="#1a1a1a" textLength="167.50" lengthAdjust="spacingAndGlyphs" stroke="#1a1a1a" stroke-width="0.25">comment les accidents</text>
<text x="831.50" y="801.20" font-size="16.5" fill="#1a1a1a" textLength="203.20" lengthAdjust="spacingAndGlyphs" stroke="#1a1a1a" stroke-width="0.25">du travail et la compétitivité</text>
<text x="831.50" y="823.60" font-size="16.5" fill="#1a1a1a" textLength="124.00" lengthAdjust="spacingAndGlyphs" stroke="#1a1a1a" stroke-width="0.25">sont-ils correlés ?</text>
<circle cx="812.1" cy="845" r="10.6" fill="#d3661f"/>
<text x="812.10" y="851.10" font-size="17" fill="#fff" font-weight="bold" text-anchor="middle" stroke="#fff" stroke-width="0.5">3</text>
<text x="831.50" y="851.80" font-size="16.5" fill="#1a1a1a" textLength="196.90" lengthAdjust="spacingAndGlyphs" stroke="#1a1a1a" stroke-width="0.25">Comment expliquer ce lien</text>
<text x="831.50" y="874.00" font-size="16.5" fill="#1a1a1a" textLength="174.50" lengthAdjust="spacingAndGlyphs" stroke="#1a1a1a" stroke-width="0.25">entre les deux variables,</text>
<text x="831.50" y="896.20" font-size="16.5" fill="#1a1a1a" textLength="211.10" lengthAdjust="spacingAndGlyphs" stroke="#1a1a1a" stroke-width="0.25">notamment d’après le texte ?</text>
<path d="M80.5 987.9L766.5 987.9L766.5 1429.2L88.5 1429.2Q80.5 1429.2 80.5 1421.2Z" fill="#fefde8" stroke="#cfe2cf" stroke-width="1.5"/>
<text x="97.90" y="1022.80" font-size="20.5" fill="#111" font-family='"Liberation Serif", serif' textLength="340.80" lengthAdjust="spacingAndGlyphs" stroke="#111" stroke-width="0.6">Les coûts des maladies professionnelles</text>
<text x="98.00" y="1050.50" font-size="17" fill="#111" font-family='"Liberation Serif", serif' textLength="20.45" lengthAdjust="spacingAndGlyphs" stroke="#111" stroke-width="0.25">La</text>
<text x="123.24" y="1050.50" font-size="17" fill="#111" font-family='"Liberation Serif", serif' textLength="39.83" lengthAdjust="spacingAndGlyphs" stroke="#111" stroke-width="0.25">santé</text>
<text x="167.85" y="1050.50" font-size="17" fill="#111" font-family='"Liberation Serif", serif' textLength="25.85" lengthAdjust="spacingAndGlyphs" stroke="#111" stroke-width="0.25">des</text>
<text x="198.48" y="1050.50" font-size="17" fill="#111" font-family='"Liberation Serif", serif' textLength="87.17" lengthAdjust="spacingAndGlyphs" stroke="#111" stroke-width="0.25">travailleurs</text>
<text x="290.44" y="1050.50" font-size="17" fill="#111" font-family='"Liberation Serif", serif' textLength="21.54" lengthAdjust="spacingAndGlyphs" stroke="#111" stroke-width="0.25">est</text>
<text x="316.77" y="1050.50" font-size="17" fill="#111" font-family='"Liberation Serif", serif' textLength="27.98" lengthAdjust="spacingAndGlyphs" stroke="#111" stroke-width="0.25">une</text>
<text x="349.54" y="1050.50" font-size="17" fill="#111" font-family='"Liberation Serif", serif' textLength="73.21" lengthAdjust="spacingAndGlyphs" stroke="#111" stroke-width="0.25">condition</text>
<text x="427.53" y="1050.50" font-size="17" fill="#111" font-family='"Liberation Serif", serif' textLength="80.73" lengthAdjust="spacingAndGlyphs" stroke="#111" stroke-width="0.25">essentielle</text>
<text x="513.04" y="1050.50" font-size="17" fill="#111" font-family='"Liberation Serif", serif' textLength="18.29" lengthAdjust="spacingAndGlyphs" stroke="#111" stroke-width="0.25">en</text>
<text x="536.12" y="1050.50" font-size="17" fill="#111" font-family='"Liberation Serif", serif' textLength="17.21" lengthAdjust="spacingAndGlyphs" stroke="#111" stroke-width="0.25">ce</text>
<text x="558.12" y="1050.50" font-size="17" fill="#111" font-family='"Liberation Serif", serif' textLength="24.78" lengthAdjust="spacingAndGlyphs" stroke="#111" stroke-width="0.25">qui</text>
<text x="587.68" y="1050.50" font-size="17" fill="#111" font-family='"Liberation Serif", serif' textLength="69.93" lengthAdjust="spacingAndGlyphs" stroke="#111" stroke-width="0.25">concerne</text>
<text x="662.40" y="1050.50" font-size="17" fill="#111" font-family='"Liberation Serif", serif' textLength="21.54" lengthAdjust="spacingAndGlyphs" stroke="#111" stroke-width="0.25">les</text>
<text x="688.72" y="1050.50" font-size="17" fill="#111" font-family='"Liberation Serif", serif' textLength="60.28" lengthAdjust="spacingAndGlyphs" stroke="#111" stroke-width="0.25">revenus</text>
<text x="98.00" y="1071.90" font-size="17" fill="#111" font-family='"Liberation Serif", serif' textLength="25.85" lengthAdjust="spacingAndGlyphs" stroke="#111" stroke-width="0.25">des</text>
<text x="129.09" y="1071.90" font-size="17" fill="#111" font-family='"Liberation Serif", serif' textLength="72.66" lengthAdjust="spacingAndGlyphs" stroke="#111" stroke-width="0.25">ménages,</text>
<text x="207.00" y="1071.90" font-size="17" fill="#111" font-family='"Liberation Serif", serif' textLength="14.00" lengthAdjust="spacingAndGlyphs" stroke="#111" stroke-width="0.25">la</text>
<text x="226.24" y="1071.90" font-size="17" fill="#111" font-family='"Liberation Serif", serif' textLength="93.66" lengthAdjust="spacingAndGlyphs" stroke="#111" stroke-width="0.25">productivité</text>
<text x="325.15" y="1071.90" font-size="17" fill="#111" font-family='"Liberation Serif", serif' textLength="14.00" lengthAdjust="spacingAndGlyphs" stroke="#111" stroke-width="0.25">et</text>
<text x="344.39" y="1071.90" font-size="17" fill="#111" font-family='"Liberation Serif", serif' textLength="14.00" lengthAdjust="spacingAndGlyphs" stroke="#111" stroke-width="0.25">le</text>
<text x="363.64" y="1071.90" font-size="17" fill="#111" font-family='"Liberation Serif", serif' textLength="118.40" lengthAdjust="spacingAndGlyphs" stroke="#111" stroke-width="0.25">développement</text>
<text x="487.29" y="1071.90" font-size="17" fill="#111" font-family='"Liberation Serif", serif' textLength="99.57" lengthAdjust="spacingAndGlyphs" stroke="#111" stroke-width="0.25">économique.</text>
<text x="592.11" y="1071.90" font-size="17" fill="#111" font-family='"Liberation Serif", serif' textLength="20.45" lengthAdjust="spacingAndGlyphs" stroke="#111" stroke-width="0.25">Le</text>
<text x="617.80" y="1071.90" font-size="17" fill="#111" font-family='"Liberation Serif", serif' textLength="111.95" lengthAdjust="spacingAndGlyphs" stroke="#111" stroke-width="0.25">rétablissement</text>
<text x="735.00" y="1071.90" font-size="17" fill="#111" font-family='"Liberation Serif", serif' textLength="14.00" lengthAdjust="spacingAndGlyphs" stroke="#111" stroke-width="0.25">et</text>
<text x="98.00" y="1094.20" font-size="17" fill="#111" font-family='"Liberation Serif", serif' textLength="14.00" lengthAdjust="spacingAndGlyphs" stroke="#111" stroke-width="0.25">le</text>
<text x="118.71" y="1094.20" font-size="17" fill="#111" font-family='"Liberation Serif", serif' textLength="67.81" lengthAdjust="spacingAndGlyphs" stroke="#111" stroke-width="0.25">maintien</text>
<text x="193.23" y="1094.20" font-size="17" fill="#111" font-family='"Liberation Serif", serif' textLength="25.85" lengthAdjust="spacingAndGlyphs" stroke="#111" stroke-width="0.25">des</text>
<text x="225.78" y="1094.20" font-size="17" fill="#111" font-family='"Liberation Serif", serif' textLength="71.02" lengthAdjust="spacingAndGlyphs" stroke="#111" stroke-width="0.25">capacités</text>
<text x="303.51" y="1094.20" font-size="17" fill="#111" font-family='"Liberation Serif", serif' textLength="18.29" lengthAdjust="spacingAndGlyphs" stroke="#111" stroke-width="0.25">de</text>
<text x="328.51" y="1094.20" font-size="17" fill="#111" font-family='"Liberation Serif", serif' textLength="49.50" lengthAdjust="spacingAndGlyphs" stroke="#111" stroke-width="0.25">travail</text>
<text x="384.72" y="1094.20" font-size="17" fill="#111" font-family='"Liberation Serif", serif' textLength="21.54" lengthAdjust="spacingAndGlyphs" stroke="#111" stroke-width="0.25">est</text>
<text x="412.97" y="1094.20" font-size="17" fill="#111" font-family='"Liberation Serif", serif' textLength="37.67" lengthAdjust="spacingAndGlyphs" stroke="#111" stroke-width="0.25">donc</text>
<text x="457.35" y="1094.20" font-size="17" fill="#111" font-family='"Liberation Serif", serif' textLength="27.98" lengthAdjust="spacingAndGlyphs" stroke="#111" stroke-width="0.25">une</text>
<text x="492.04" y="1094.20" font-size="17" fill="#111" font-family='"Liberation Serif", serif' textLength="64.59" lengthAdjust="spacingAndGlyphs" stroke="#111" stroke-width="0.25">fonction</text>
<text x="563.34" y="1094.20" font-size="17" fill="#111" font-family='"Liberation Serif", serif' textLength="83.97" lengthAdjust="spacingAndGlyphs" stroke="#111" stroke-width="0.25">importante</text>
<text x="654.01" y="1094.20" font-size="17" fill="#111" font-family='"Liberation Serif", serif' textLength="25.85" lengthAdjust="spacingAndGlyphs" stroke="#111" stroke-width="0.25">des</text>
<text x="686.57" y="1094.20" font-size="17" fill="#111" font-family='"Liberation Serif", serif' textLength="62.43" lengthAdjust="spacingAndGlyphs" stroke="#111" stroke-width="0.25">services</text>
<text x="98.00" y="1116.00" font-size="17" fill="#111" font-family='"Liberation Serif", serif' textLength="18.29" lengthAdjust="spacingAndGlyphs" stroke="#111" stroke-width="0.25">de</text>
<text x="121.20" y="1116.00" font-size="17" fill="#111" font-family='"Liberation Serif", serif' textLength="44.67" lengthAdjust="spacingAndGlyphs" stroke="#111" stroke-width="0.25">santé.</text>
<text x="170.79" y="1116.00" font-size="17" fill="#111" font-family='"Liberation Serif", serif' textLength="27.98" lengthAdjust="spacingAndGlyphs" stroke="#111" stroke-width="0.25">Les</text>
<text x="203.68" y="1116.00" font-size="17" fill="#111" font-family='"Liberation Serif", serif' textLength="54.92" lengthAdjust="spacingAndGlyphs" stroke="#111" stroke-width="0.25">risques</text>
<text x="263.51" y="1116.00" font-size="17" fill="#111" font-family='"Liberation Serif", serif' textLength="35.54" lengthAdjust="spacingAndGlyphs" stroke="#111" stroke-width="0.25">pour</text>
<text x="303.95" y="1116.00" font-size="17" fill="#111" font-family='"Liberation Serif", serif' textLength="14.00" lengthAdjust="spacingAndGlyphs" stroke="#111" stroke-width="0.25">la</text>
<text x="322.86" y="1116.00" font-size="17" fill="#111" font-family='"Liberation Serif", serif' textLength="39.83" lengthAdjust="spacingAndGlyphs" stroke="#111" stroke-width="0.25">santé</text>
<text x="367.60" y="1116.00" font-size="17" fill="#111" font-family='"Liberation Serif", serif' textLength="23.69" lengthAdjust="spacingAndGlyphs" stroke="#111" stroke-width="0.25">sur</text>
<text x="396.20" y="1116.00" font-size="17" fill="#111" font-family='"Liberation Serif", serif' textLength="14.00" lengthAdjust="spacingAndGlyphs" stroke="#111" stroke-width="0.25">le</text>
<text x="415.11" y="1116.00" font-size="17" fill="#111" font-family='"Liberation Serif", serif' textLength="29.07" lengthAdjust="spacingAndGlyphs" stroke="#111" stroke-width="0.25">lieu</text>
<text x="449.09" y="1116.00" font-size="17" fill="#111" font-family='"Liberation Serif", serif' textLength="18.29" lengthAdjust="spacingAndGlyphs" stroke="#111" stroke-width="0.25">de</text>
<text x="472.30" y="1116.00" font-size="17" fill="#111" font-family='"Liberation Serif", serif' textLength="54.35" lengthAdjust="spacingAndGlyphs" stroke="#111" stroke-width="0.25">travail,</text>
<text x="531.55" y="1116.00" font-size="17" fill="#111" font-family='"Liberation Serif", serif' textLength="26.91" lengthAdjust="spacingAndGlyphs" stroke="#111" stroke-width="0.25">liés</text>
<text x="563.38" y="1116.00" font-size="17" fill="#111" font-family='"Liberation Serif", serif' textLength="87.19" lengthAdjust="spacingAndGlyphs" stroke="#111" stroke-width="0.25">notamment</text>
<text x="655.48" y="1116.00" font-size="17" fill="#111" font-family='"Liberation Serif", serif' textLength="8.60" lengthAdjust="spacingAndGlyphs" stroke="#111" stroke-width="0.25">à</text>
<text x="668.99" y="1116.00" font-size="17" fill="#111" font-family='"Liberation Serif", serif' textLength="14.00" lengthAdjust="spacingAndGlyphs" stroke="#111" stroke-width="0.25">la</text>
<text x="687.90" y="1116.00" font-size="17" fill="#111" font-family='"Liberation Serif", serif' textLength="61.10" lengthAdjust="spacingAndGlyphs" stroke="#111" stroke-width="0.25">chaleur,</text>
<text x="98.00" y="1138.22" font-size="17" fill="#111" font-family='"Liberation Serif", serif' textLength="18.29" lengthAdjust="spacingAndGlyphs" stroke="#111" stroke-width="0.25">au</text>
<text x="121.11" y="1138.22" font-size="17" fill="#111" font-family='"Liberation Serif", serif' textLength="41.45" lengthAdjust="spacingAndGlyphs" stroke="#111" stroke-width="0.25">bruit,</text>
<text x="167.38" y="1138.22" font-size="17" fill="#111" font-family='"Liberation Serif", serif' textLength="8.60" lengthAdjust="spacingAndGlyphs" stroke="#111" stroke-width="0.25">à</text>
<text x="180.81" y="1138.22" font-size="17" fill="#111" font-family='"Liberation Serif", serif' textLength="14.00" lengthAdjust="spacingAndGlyphs" stroke="#111" stroke-width="0.25">la</text>
<text x="199.63" y="1138.22" font-size="17" fill="#111" font-family='"Liberation Serif", serif' textLength="78.05" lengthAdjust="spacingAndGlyphs" stroke="#111" stroke-width="0.25">poussière,</text>
<text x="282.50" y="1138.22" font-size="17" fill="#111" font-family='"Liberation Serif", serif' textLength="27.98" lengthAdjust="spacingAndGlyphs" stroke="#111" stroke-width="0.25">aux</text>
<text x="315.30" y="1138.22" font-size="17" fill="#111" font-family='"Liberation Serif", serif' textLength="63.54" lengthAdjust="spacingAndGlyphs" stroke="#111" stroke-width="0.25">produits</text>
<text x="383.66" y="1138.22" font-size="17" fill="#111" font-family='"Liberation Serif", serif' textLength="79.68" lengthAdjust="spacingAndGlyphs" stroke="#111" stroke-width="0.25">chimiques</text>
<text x="468.16" y="1138.22" font-size="17" fill="#111" font-family='"Liberation Serif", serif' textLength="85.57" lengthAdjust="spacingAndGlyphs" stroke="#111" stroke-width="0.25">dangereux,</text>
<text x="558.55" y="1138.22" font-size="17" fill="#111" font-family='"Liberation Serif", serif' textLength="27.98" lengthAdjust="spacingAndGlyphs" stroke="#111" stroke-width="0.25">aux</text>
<text x="591.35" y="1138.22" font-size="17" fill="#111" font-family='"Liberation Serif", serif' textLength="73.19" lengthAdjust="spacingAndGlyphs" stroke="#111" stroke-width="0.25">machines</text>
<text x="669.36" y="1138.22" font-size="17" fill="#111" font-family='"Liberation Serif", serif' textLength="79.64" lengthAdjust="spacingAndGlyphs" stroke="#111" stroke-width="0.25">présentant</text>
<text x="98.00" y="1160.44" font-size="17" fill="#111" font-family='"Liberation Serif", serif' textLength="25.85" lengthAdjust="spacingAndGlyphs" stroke="#111" stroke-width="0.25">des</text>
<text x="130.33" y="1160.44" font-size="17" fill="#111" font-family='"Liberation Serif", serif' textLength="54.92" lengthAdjust="spacingAndGlyphs" stroke="#111" stroke-width="0.25">risques</text>
<text x="191.73" y="1160.44" font-size="17" fill="#111" font-family='"Liberation Serif", serif' textLength="14.00" lengthAdjust="spacingAndGlyphs" stroke="#111" stroke-width="0.25">et</text>
<text x="212.21" y="1160.44" font-size="17" fill="#111" font-family='"Liberation Serif", serif' textLength="18.29" lengthAdjust="spacingAndGlyphs" stroke="#111" stroke-width="0.25">au</text>
<text x="236.99" y="1160.44" font-size="17" fill="#111" font-family='"Liberation Serif", serif' textLength="43.07" lengthAdjust="spacingAndGlyphs" stroke="#111" stroke-width="0.25">stress</text>
<text x="286.54" y="1160.44" font-size="17" fill="#111" font-family='"Liberation Serif", serif' textLength="117.88" lengthAdjust="spacingAndGlyphs" stroke="#111" stroke-width="0.25">psychologique,</text>
<text x="410.91" y="1160.44" font-size="17" fill="#111" font-family='"Liberation Serif", serif' textLength="77.48" lengthAdjust="spacingAndGlyphs" stroke="#111" stroke-width="0.25">entraînent</text>
<text x="494.87" y="1160.44" font-size="17" fill="#111" font-family='"Liberation Serif", serif' textLength="25.85" lengthAdjust="spacingAndGlyphs" stroke="#111" stroke-width="0.25">des</text>
<text x="527.20" y="1160.44" font-size="17" fill="#111" font-family='"Liberation Serif", serif' textLength="68.88" lengthAdjust="spacingAndGlyphs" stroke="#111" stroke-width="0.25">maladies</text>
<text x="602.56" y="1160.44" font-size="17" fill="#111" font-family='"Liberation Serif", serif' textLength="125.95" lengthAdjust="spacingAndGlyphs" stroke="#111" stroke-width="0.25">professionnelles</text>
<text x="735.00" y="1160.44" font-size="17" fill="#111" font-family='"Liberation Serif", serif' textLength="14.00" lengthAdjust="spacingAndGlyphs" stroke="#111" stroke-width="0.25">et</text>
<text x="98.00" y="1182.66" font-size="17" fill="#111" font-family='"Liberation Serif", serif' textLength="61.01" lengthAdjust="spacingAndGlyphs" stroke="#111" stroke-width="0.25">peuvent</text>
<text x="163.10" y="1182.66" font-size="17" fill="#111" font-family='"Liberation Serif", serif' textLength="67.40" lengthAdjust="spacingAndGlyphs" stroke="#111" stroke-width="0.25">aggraver</text>
<text x="234.60" y="1182.66" font-size="17" fill="#111" font-family='"Liberation Serif", serif' textLength="62.07" lengthAdjust="spacingAndGlyphs" stroke="#111" stroke-width="0.25">d’autres</text>
<text x="300.76" y="1182.66" font-size="17" fill="#111" font-family='"Liberation Serif", serif' textLength="80.27" lengthAdjust="spacingAndGlyphs" stroke="#111" stroke-width="0.25">problèmes</text>
<text x="385.13" y="1182.66" font-size="17" fill="#111" font-family='"Liberation Serif", serif' textLength="18.19" lengthAdjust="spacingAndGlyphs" stroke="#111" stroke-width="0.25">de</text>
<text x="407.41" y="1182.66" font-size="17" fill="#111" font-family='"Liberation Serif", serif' textLength="44.41" lengthAdjust="spacingAndGlyphs" stroke="#111" stroke-width="0.25">santé.</text>
<text x="455.92" y="1182.66" font-size="17" fill="#111" font-family='"Liberation Serif", serif' textLength="27.82" lengthAdjust="spacingAndGlyphs" stroke="#111" stroke-width="0.25">Les</text>
<text x="487.83" y="1182.66" font-size="17" fill="#111" font-family='"Liberation Serif", serif' textLength="80.29" lengthAdjust="spacingAndGlyphs" stroke="#111" stroke-width="0.25">conditions</text>
<text x="572.22" y="1182.66" font-size="17" fill="#111" font-family='"Liberation Serif", serif' textLength="74.40" lengthAdjust="spacingAndGlyphs" stroke="#111" stroke-width="0.25">d’emploi,</text>
<text x="650.71" y="1182.66" font-size="17" fill="#111" font-family='"Liberation Serif", serif' textLength="13.92" lengthAdjust="spacingAndGlyphs" stroke="#111" stroke-width="0.25">la</text>
<text x="668.73" y="1182.66" font-size="17" fill="#111" font-family='"Liberation Serif", serif' textLength="80.27" lengthAdjust="spacingAndGlyphs" stroke="#111" stroke-width="0.25">profession</text>
<text x="98.00" y="1204.88" font-size="17" fill="#111" font-family='"Liberation Serif", serif' textLength="14.00" lengthAdjust="spacingAndGlyphs" stroke="#111" stroke-width="0.25">et</text>
<text x="117.45" y="1204.88" font-size="17" fill="#111" font-family='"Liberation Serif", serif' textLength="14.00" lengthAdjust="spacingAndGlyphs" stroke="#111" stroke-width="0.25">la</text>
<text x="136.90" y="1204.88" font-size="17" fill="#111" font-family='"Liberation Serif", serif' textLength="62.47" lengthAdjust="spacingAndGlyphs" stroke="#111" stroke-width="0.25">position</text>
<text x="204.81" y="1204.88" font-size="17" fill="#111" font-family='"Liberation Serif", serif' textLength="35.54" lengthAdjust="spacingAndGlyphs" stroke="#111" stroke-width="0.25">dans</text>
<text x="245.80" y="1204.88" font-size="17" fill="#111" font-family='"Liberation Serif", serif' textLength="14.00" lengthAdjust="spacingAndGlyphs" stroke="#111" stroke-width="0.25">la</text>
<text x="265.25" y="1204.88" font-size="17" fill="#111" font-family='"Liberation Serif", serif' textLength="77.47" lengthAdjust="spacingAndGlyphs" stroke="#111" stroke-width="0.25">hiérarchie</text>
<text x="348.16" y="1204.88" font-size="17" fill="#111" font-family='"Liberation Serif", serif' textLength="118.40" lengthAdjust="spacingAndGlyphs" stroke="#111" stroke-width="0.25">professionnelle</text>
<text x="472.01" y="1204.88" font-size="17" fill="#111" font-family='"Liberation Serif", serif' textLength="24.78" lengthAdjust="spacingAndGlyphs" stroke="#111" stroke-width="0.25">ont</text>
<text x="502.24" y="1204.88" font-size="17" fill="#111" font-family='"Liberation Serif", serif' textLength="79.64" lengthAdjust="spacingAndGlyphs" stroke="#111" stroke-width="0.25">également</text>
<text x="587.32" y="1204.88" font-size="17" fill="#111" font-family='"Liberation Serif", serif' textLength="25.85" lengthAdjust="spacingAndGlyphs" stroke="#111" stroke-width="0.25">des</text>
<text x="618.62" y="1204.88" font-size="17" fill="#111" font-family='"Liberation Serif", serif' textLength="81.79" lengthAdjust="spacingAndGlyphs" stroke="#111" stroke-width="0.25">incidences</text>
<text x="705.86" y="1204.88" font-size="17" fill="#111" font-family='"Liberation Serif", serif' textLength="23.69" lengthAdjust="spacingAndGlyphs" stroke="#111" stroke-width="0.25">sur</text>
<text x="735.00" y="1204.88" font-size="17" fill="#111" font-family='"Liberation Serif", serif' textLength="14.00" lengthAdjust="spacingAndGlyphs" stroke="#111" stroke-width="0.25">la</text>
<text x="98.00" y="1227.10" font-size="17" fill="#111" font-family='"Liberation Serif", serif' textLength="44.67" lengthAdjust="spacingAndGlyphs" stroke="#111" stroke-width="0.25">santé.</text>
<text x="148.76" y="1227.10" font-size="17" fill="#111" font-family='"Liberation Serif", serif' textLength="27.98" lengthAdjust="spacingAndGlyphs" stroke="#111" stroke-width="0.25">Les</text>
<text x="182.83" y="1227.10" font-size="17" fill="#111" font-family='"Liberation Serif", serif' textLength="77.50" lengthAdjust="spacingAndGlyphs" stroke="#111" stroke-width="0.25">personnes</text>
<text x="266.42" y="1227.10" font-size="17" fill="#111" font-family='"Liberation Serif", serif' textLength="78.57" lengthAdjust="spacingAndGlyphs" stroke="#111" stroke-width="0.25">travaillant</text>
<text x="351.07" y="1227.10" font-size="17" fill="#111" font-family='"Liberation Serif", serif' textLength="35.54" lengthAdjust="spacingAndGlyphs" stroke="#111" stroke-width="0.25">dans</text>
<text x="392.70" y="1227.10" font-size="17" fill="#111" font-family='"Liberation Serif", serif' textLength="25.85" lengthAdjust="spacingAndGlyphs" stroke="#111" stroke-width="0.25">des</text>
<text x="424.63" y="1227.10" font-size="17" fill="#111" font-family='"Liberation Serif", serif' textLength="80.76" lengthAdjust="spacingAndGlyphs" stroke="#111" stroke-width="0.25">conditions</text>
<text x="511.48" y="1227.10" font-size="17" fill="#111" font-family='"Liberation Serif", serif' textLength="82.90" lengthAdjust="spacingAndGlyphs" stroke="#111" stroke-width="0.25">stressantes</text>
<text x="600.46" y="1227.10" font-size="17" fill="#111" font-family='"Liberation Serif", serif' textLength="19.38" lengthAdjust="spacingAndGlyphs" stroke="#111" stroke-width="0.25">ou</text>
<text x="625.93" y="1227.10" font-size="17" fill="#111" font-family='"Liberation Serif", serif' textLength="35.54" lengthAdjust="spacingAndGlyphs" stroke="#111" stroke-width="0.25">dans</text>
<text x="667.55" y="1227.10" font-size="17" fill="#111" font-family='"Liberation Serif", serif' textLength="25.85" lengthAdjust="spacingAndGlyphs" stroke="#111" stroke-width="0.25">des</text>
<text x="699.48" y="1227.10" font-size="17" fill="#111" font-family='"Liberation Serif", serif' textLength="49.52" lengthAdjust="spacingAndGlyphs" stroke="#111" stroke-width="0.25">condi-</text>
<text x="98.00" y="1249.32" font-size="17" fill="#111" font-family='"Liberation Serif", serif' textLength="36.56" lengthAdjust="spacingAndGlyphs" stroke="#111" stroke-width="0.25">tions</text>
<text x="138.55" y="1249.32" font-size="17" fill="#111" font-family='"Liberation Serif", serif' textLength="67.88" lengthAdjust="spacingAndGlyphs" stroke="#111" stroke-width="0.25">d’emploi</text>
<text x="210.43" y="1249.32" font-size="17" fill="#111" font-family='"Liberation Serif", serif' textLength="60.52" lengthAdjust="spacingAndGlyphs" stroke="#111" stroke-width="0.25">précaire</text>
<text x="274.94" y="1249.32" font-size="17" fill="#111" font-family='"Liberation Serif", serif' textLength="31.34" lengthAdjust="spacingAndGlyphs" stroke="#111" stroke-width="0.25">sont</text>
<text x="310.28" y="1249.32" font-size="17" fill="#111" font-family='"Liberation Serif", serif' textLength="90.84" lengthAdjust="spacingAndGlyphs" stroke="#111" stroke-width="0.25">susceptibles</text>
<text x="405.12" y="1249.32" font-size="17" fill="#111" font-family='"Liberation Serif", serif' textLength="17.74" lengthAdjust="spacingAndGlyphs" stroke="#111" stroke-width="0.25">de</text>
<text x="426.85" y="1249.32" font-size="17" fill="#111" font-family='"Liberation Serif", serif' textLength="44.89" lengthAdjust="spacingAndGlyphs" stroke="#111" stroke-width="0.25">fumer</text>
<text x="475.73" y="1249.32" font-size="17" fill="#111" font-family='"Liberation Serif", serif' textLength="80.89" lengthAdjust="spacingAndGlyphs" stroke="#111" stroke-width="0.25">davantage,</text>
<text x="560.62" y="1249.32" font-size="17" fill="#111" font-family='"Liberation Serif", serif' textLength="17.74" lengthAdjust="spacingAndGlyphs" stroke="#111" stroke-width="0.25">de</text>
<text x="582.36" y="1249.32" font-size="17" fill="#111" font-family='"Liberation Serif", serif' textLength="34.43" lengthAdjust="spacingAndGlyphs" stroke="#111" stroke-width="0.25">faire</text>
<text x="620.78" y="1249.32" font-size="17" fill="#111" font-family='"Liberation Serif", serif' textLength="45.96" lengthAdjust="spacingAndGlyphs" stroke="#111" stroke-width="0.25">moins</text>
<text x="670.74" y="1249.32" font-size="17" fill="#111" font-family='"Liberation Serif", serif' textLength="78.26" lengthAdjust="spacingAndGlyphs" stroke="#111" stroke-width="0.25">d’exercice</text>
<text x="98.00" y="1271.54" font-size="17" fill="#111" font-family='"Liberation Serif", serif' textLength="13.99" lengthAdjust="spacingAndGlyphs" stroke="#111" stroke-width="0.25">et</text>
<text x="116.83" y="1271.54" font-size="17" fill="#111" font-family='"Liberation Serif", serif' textLength="55.91" lengthAdjust="spacingAndGlyphs" stroke="#111" stroke-width="0.25">d’avoir</text>
<text x="177.58" y="1271.54" font-size="17" fill="#111" font-family='"Liberation Serif", serif' textLength="27.96" lengthAdjust="spacingAndGlyphs" stroke="#111" stroke-width="0.25">une</text>
<text x="210.37" y="1271.54" font-size="17" fill="#111" font-family='"Liberation Serif", serif' textLength="96.78" lengthAdjust="spacingAndGlyphs" stroke="#111" stroke-width="0.25">alimentation</text>
<text x="312.00" y="1271.54" font-size="17" fill="#111" font-family='"Liberation Serif", serif' textLength="47.33" lengthAdjust="spacingAndGlyphs" stroke="#111" stroke-width="0.25">moins</text>
<text x="364.17" y="1271.54" font-size="17" fill="#111" font-family='"Liberation Serif", serif' textLength="44.63" lengthAdjust="spacingAndGlyphs" stroke="#111" stroke-width="0.25">saine.</text>
<text x="413.64" y="1271.54" font-size="17" fill="#111" font-family='"Liberation Serif", serif' textLength="32.26" lengthAdjust="spacingAndGlyphs" stroke="#111" stroke-width="0.25">[…]</text>
<text x="98.00" y="1293.76" font-size="17" fill="#111" font-family='"Liberation Serif", serif' textLength="27.98" lengthAdjust="spacingAndGlyphs" stroke="#111" stroke-width="0.25">Les</text>
<text x="134.13" y="1293.76" font-size="17" fill="#111" font-family='"Liberation Serif", serif' textLength="80.74" lengthAdjust="spacingAndGlyphs" stroke="#111" stroke-width="0.25">problèmes</text>
<text x="223.01" y="1293.76" font-size="17" fill="#111" font-family='"Liberation Serif", serif' textLength="18.29" lengthAdjust="spacingAndGlyphs" stroke="#111" stroke-width="0.25">de</text>
<text x="249.45" y="1293.76" font-size="17" fill="#111" font-family='"Liberation Serif", serif' textLength="39.83" lengthAdjust="spacingAndGlyphs" stroke="#111" stroke-width="0.25">santé</text>
<text x="297.42" y="1293.76" font-size="17" fill="#111" font-family='"Liberation Serif", serif' textLength="26.91" lengthAdjust="spacingAndGlyphs" stroke="#111" stroke-width="0.25">liés</text>
<text x="332.48" y="1293.76" font-size="17" fill="#111" font-family='"Liberation Serif", serif' textLength="18.29" lengthAdjust="spacingAndGlyphs" stroke="#111" stroke-width="0.25">au</text>
<text x="358.91" y="1293.76" font-size="17" fill="#111" font-family='"Liberation Serif", serif' textLength="49.50" lengthAdjust="spacingAndGlyphs" stroke="#111" stroke-width="0.25">travail</text>
<text x="416.56" y="1293.76" font-size="17" fill="#111" font-family='"Liberation Serif", serif' textLength="16.16" lengthAdjust="spacingAndGlyphs" stroke="#111" stroke-width="0.25">se</text>
<text x="440.85" y="1293.76" font-size="17" fill="#111" font-family='"Liberation Serif", serif' textLength="76.43" lengthAdjust="spacingAndGlyphs" stroke="#111" stroke-width="0.25">traduisent</text>
<text x="525.43" y="1293.76" font-size="17" fill="#111" font-family='"Liberation Serif", serif' textLength="24.76" lengthAdjust="spacingAndGlyphs" stroke="#111" stroke-width="0.25">par</text>
<text x="558.33" y="1293.76" font-size="17" fill="#111" font-family='"Liberation Serif", serif' textLength="25.85" lengthAdjust="spacingAndGlyphs" stroke="#111" stroke-width="0.25">des</text>
<text x="592.32" y="1293.76" font-size="17" fill="#111" font-family='"Liberation Serif", serif' textLength="46.28" lengthAdjust="spacingAndGlyphs" stroke="#111" stroke-width="0.25">pertes</text>
<text x="646.74" y="1293.76" font-size="17" fill="#111" font-family='"Liberation Serif", serif' textLength="102.26" lengthAdjust="spacingAndGlyphs" stroke="#111" stroke-width="0.25">économiques</text>
<text x="98.00" y="1315.98" font-size="17" fill="#111" font-family='"Liberation Serif", serif' textLength="98.63" lengthAdjust="spacingAndGlyphs" stroke="#111" stroke-width="0.25">équivalentes</text>
<text x="201.57" y="1315.98" font-size="17" fill="#111" font-family='"Liberation Serif", serif' textLength="8.76" lengthAdjust="spacingAndGlyphs" stroke="#111" stroke-width="0.25">à</text>
<text x="215.26" y="1315.98" font-size="17" fill="#111" font-family='"Liberation Serif", serif' textLength="42.75" lengthAdjust="spacingAndGlyphs" stroke="#111" stroke-width="0.25">4-6%</text>
<text x="262.94" y="1315.98" font-size="17" fill="#111" font-family='"Liberation Serif", serif' textLength="19.73" lengthAdjust="spacingAndGlyphs" stroke="#111" stroke-width="0.25">du</text>
<text x="287.61" y="1315.98" font-size="17" fill="#111" font-family='"Liberation Serif", serif' textLength="30.73" lengthAdjust="spacingAndGlyphs" stroke="#111" stroke-width="0.25">PIB</text>
<text x="323.27" y="1315.98" font-size="17" fill="#111" font-family='"Liberation Serif", serif' textLength="36.18" lengthAdjust="spacingAndGlyphs" stroke="#111" stroke-width="0.25">dans</text>
<text x="364.39" y="1315.98" font-size="17" fill="#111" font-family='"Liberation Serif", serif' textLength="14.26" lengthAdjust="spacingAndGlyphs" stroke="#111" stroke-width="0.25">la</text>
<text x="383.58" y="1315.98" font-size="17" fill="#111" font-family='"Liberation Serif", serif' textLength="55.90" lengthAdjust="spacingAndGlyphs" stroke="#111" stroke-width="0.25">plupart</text>
<text x="444.41" y="1315.98" font-size="17" fill="#111" font-family='"Liberation Serif", serif' textLength="26.32" lengthAdjust="spacingAndGlyphs" stroke="#111" stroke-width="0.25">des</text>
<text x="475.66" y="1315.98" font-size="17" fill="#111" font-family='"Liberation Serif", serif' textLength="41.12" lengthAdjust="spacingAndGlyphs" stroke="#111" stroke-width="0.25">pays.</text>
<text x="521.72" y="1315.98" font-size="17" fill="#111" font-family='"Liberation Serif", serif' textLength="32.88" lengthAdjust="spacingAndGlyphs" stroke="#111" stroke-width="0.25">[…]</text>
<text x="98.00" y="1338.20" font-size="17" fill="#111" font-family='"Liberation Serif", serif' textLength="20.45" lengthAdjust="spacingAndGlyphs" stroke="#111" stroke-width="0.25">La</text>
<text x="126.43" y="1338.20" font-size="17" fill="#111" font-family='"Liberation Serif", serif' textLength="75.31" lengthAdjust="spacingAndGlyphs" stroke="#111" stroke-width="0.25">recherche</text>
<text x="209.72" y="1338.20" font-size="17" fill="#111" font-family='"Liberation Serif", serif' textLength="8.60" lengthAdjust="spacingAndGlyphs" stroke="#111" stroke-width="0.25">a</text>
<text x="226.31" y="1338.20" font-size="17" fill="#111" font-family='"Liberation Serif", serif' textLength="54.90" lengthAdjust="spacingAndGlyphs" stroke="#111" stroke-width="0.25">montré</text>
<text x="289.19" y="1338.20" font-size="17" fill="#111" font-family='"Liberation Serif", serif' textLength="27.98" lengthAdjust="spacingAndGlyphs" stroke="#111" stroke-width="0.25">que</text>
<text x="325.15" y="1338.20" font-size="17" fill="#111" font-family='"Liberation Serif", serif' textLength="21.54" lengthAdjust="spacingAndGlyphs" stroke="#111" stroke-width="0.25">les</text>
<text x="354.67" y="1338.20" font-size="17" fill="#111" font-family='"Liberation Serif", serif' textLength="76.43" lengthAdjust="spacingAndGlyphs" stroke="#111" stroke-width="0.25">initiatives</text>
<text x="439.09" y="1338.20" font-size="17" fill="#111" font-family='"Liberation Serif", serif' textLength="18.29" lengthAdjust="spacingAndGlyphs" stroke="#111" stroke-width="0.25">de</text>
<text x="465.36" y="1338.20" font-size="17" fill="#111" font-family='"Liberation Serif", serif' textLength="39.83" lengthAdjust="spacingAndGlyphs" stroke="#111" stroke-width="0.25">santé</text>
<text x="513.17" y="1338.20" font-size="17" fill="#111" font-family='"Liberation Serif", serif' textLength="23.69" lengthAdjust="spacingAndGlyphs" stroke="#111" stroke-width="0.25">sur</text>
<text x="544.84" y="1338.20" font-size="17" fill="#111" font-family='"Liberation Serif", serif' textLength="14.00" lengthAdjust="spacingAndGlyphs" stroke="#111" stroke-width="0.25">le</text>
<text x="566.83" y="1338.20" font-size="17" fill="#111" font-family='"Liberation Serif", serif' textLength="29.07" lengthAdjust="spacingAndGlyphs" stroke="#111" stroke-width="0.25">lieu</text>
<text x="603.88" y="1338.20" font-size="17" fill="#111" font-family='"Liberation Serif", serif' textLength="18.29" lengthAdjust="spacingAndGlyphs" stroke="#111" stroke-width="0.25">de</text>
<text x="630.15" y="1338.20" font-size="17" fill="#111" font-family='"Liberation Serif", serif' textLength="49.50" lengthAdjust="spacingAndGlyphs" stroke="#111" stroke-width="0.25">travail</text>
<text x="687.64" y="1338.20" font-size="17" fill="#111" font-family='"Liberation Serif", serif' textLength="61.36" lengthAdjust="spacingAndGlyphs" stroke="#111" stroke-width="0.25">peuvent</text>
<text x="98.00" y="1360.42" font-size="17" fill="#111" font-family='"Liberation Serif", serif' textLength="79.64" lengthAdjust="spacingAndGlyphs" stroke="#111" stroke-width="0.25">contribuer</text>
<text x="184.35" y="1360.42" font-size="17" fill="#111" font-family='"Liberation Serif", serif' textLength="8.60" lengthAdjust="spacingAndGlyphs" stroke="#111" stroke-width="0.25">à</text>
<text x="199.67" y="1360.42" font-size="17" fill="#111" font-family='"Liberation Serif", serif' textLength="54.88" lengthAdjust="spacingAndGlyphs" stroke="#111" stroke-width="0.25">réduire</text>
<text x="261.26" y="1360.42" font-size="17" fill="#111" font-family='"Liberation Serif", serif' textLength="106.55" lengthAdjust="spacingAndGlyphs" stroke="#111" stroke-width="0.25">l’absentéisme</text>
<text x="374.52" y="1360.42" font-size="17" fill="#111" font-family='"Liberation Serif", serif' textLength="35.54" lengthAdjust="spacingAndGlyphs" stroke="#111" stroke-width="0.25">pour</text>
<text x="416.77" y="1360.42" font-size="17" fill="#111" font-family='"Liberation Serif", serif' textLength="46.28" lengthAdjust="spacingAndGlyphs" stroke="#111" stroke-width="0.25">congé</text>
<text x="469.76" y="1360.42" font-size="17" fill="#111" font-family='"Liberation Serif", serif' textLength="18.29" lengthAdjust="spacingAndGlyphs" stroke="#111" stroke-width="0.25">de</text>
<text x="494.76" y="1360.42" font-size="17" fill="#111" font-family='"Liberation Serif", serif' textLength="61.35" lengthAdjust="spacingAndGlyphs" stroke="#111" stroke-width="0.25">maladie</text>
<text x="562.82" y="1360.42" font-size="17" fill="#111" font-family='"Liberation Serif", serif' textLength="18.29" lengthAdjust="spacingAndGlyphs" stroke="#111" stroke-width="0.25">de</text>
<text x="587.83" y="1360.42" font-size="17" fill="#111" font-family='"Liberation Serif", serif' textLength="35.54" lengthAdjust="spacingAndGlyphs" stroke="#111" stroke-width="0.25">27%</text>
<text x="630.07" y="1360.42" font-size="17" fill="#111" font-family='"Liberation Serif", serif' textLength="14.00" lengthAdjust="spacingAndGlyphs" stroke="#111" stroke-width="0.25">et</text>
<text x="650.79" y="1360.42" font-size="17" fill="#111" font-family='"Liberation Serif", serif' textLength="21.54" lengthAdjust="spacingAndGlyphs" stroke="#111" stroke-width="0.25">les</text>
<text x="679.03" y="1360.42" font-size="17" fill="#111" font-family='"Liberation Serif", serif' textLength="69.97" lengthAdjust="spacingAndGlyphs" stroke="#111" stroke-width="0.25">dépenses</text>
<text x="98.00" y="1382.64" font-size="17" fill="#111" font-family='"Liberation Serif", serif' textLength="18.72" lengthAdjust="spacingAndGlyphs" stroke="#111" stroke-width="0.25">de</text>
<text x="121.67" y="1382.64" font-size="17" fill="#111" font-family='"Liberation Serif", serif' textLength="40.75" lengthAdjust="spacingAndGlyphs" stroke="#111" stroke-width="0.25">santé</text>
<text x="167.38" y="1382.64" font-size="17" fill="#111" font-family='"Liberation Serif", serif' textLength="26.44" lengthAdjust="spacingAndGlyphs" stroke="#111" stroke-width="0.25">des</text>
<text x="198.77" y="1382.64" font-size="17" fill="#111" font-family='"Liberation Serif", serif' textLength="85.89" lengthAdjust="spacingAndGlyphs" stroke="#111" stroke-width="0.25">entreprises</text>
<text x="289.62" y="1382.64" font-size="17" fill="#111" font-family='"Liberation Serif", serif' textLength="18.72" lengthAdjust="spacingAndGlyphs" stroke="#111" stroke-width="0.25">de</text>
<text x="313.29" y="1382.64" font-size="17" fill="#111" font-family='"Liberation Serif", serif' textLength="41.31" lengthAdjust="spacingAndGlyphs" stroke="#111" stroke-width="0.25">26%.</text>
<text x="196.60" y="1410.70" font-size="14" fill="#111" textLength="550.10" lengthAdjust="spacingAndGlyphs" stroke="#111" stroke-width="0.35">«Protection de la santé des travailleurs», Organisation mondiale de la Santé, 30 novembre 2017.</text>
<text x="621.6" y="1463" font-size="15" fill="#1a1a1a" stroke="#1a1a1a" stroke-width="0.2" textLength="395.8" lengthAdjust="spacingAndGlyphs"><tspan font-weight="bold" stroke-width="0.4">Chapitre 3</tspan><tspan fill="#3d2090" stroke="none" font-size="12"> • </tspan>Quelles sont les principales défaillances du marché ?</text>
<rect x="1040.6" y="1451.7" width="4.3" height="48.3" fill="#e9bd4c"/>
<text x="1051.20" y="1463.10" font-size="15.5" fill="#1a1a1a" textLength="14.60" lengthAdjust="spacingAndGlyphs" stroke="#1a1a1a" stroke-width="0.2">79</text>
</svg>
</body></html>
